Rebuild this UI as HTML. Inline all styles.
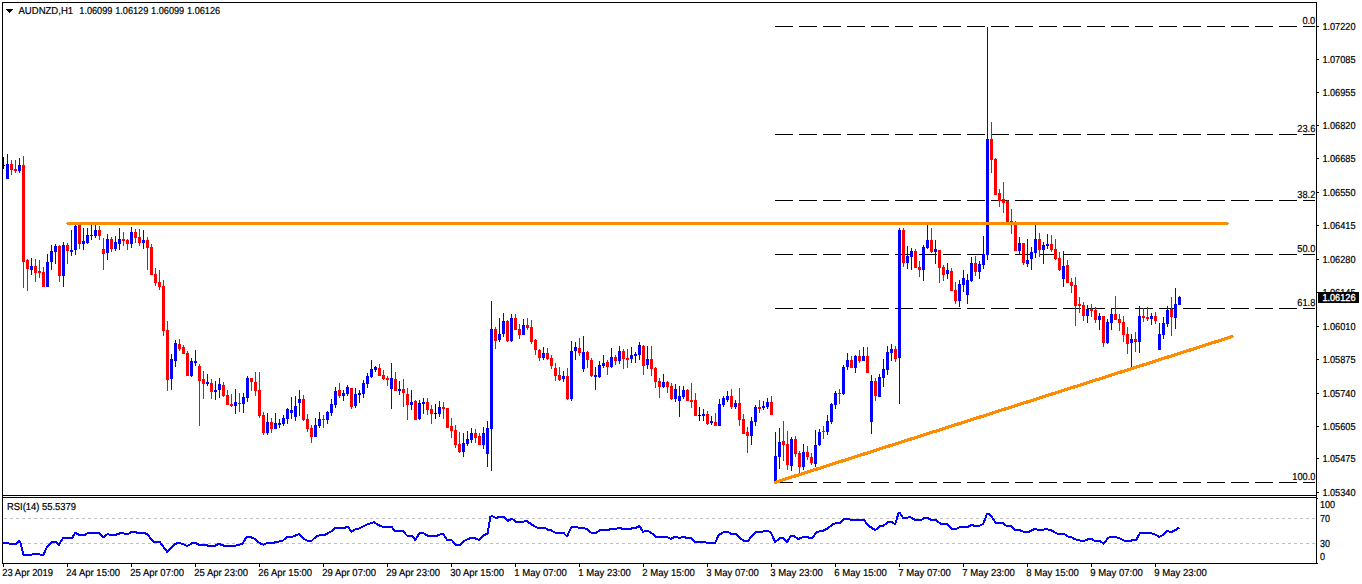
<!DOCTYPE html>
<html><head><meta charset="utf-8"><title>AUDNZD H1</title>
<style>html,body{margin:0;padding:0;background:#fff;overflow:hidden}svg{display:block}text{font-family:"Liberation Sans",sans-serif;font-size:10.1px;text-rendering:geometricPrecision;fill:#000;stroke:#000;stroke-width:0.2px}</style>
</head><body>
<svg width="1362" height="584" viewBox="0 0 1362 584">
<rect x="0" y="0" width="1362" height="584" fill="#fff"/>
<g shape-rendering="crispEdges">
<rect x="775" y="26" width="18" height="1" fill="#000"/>
<rect x="799" y="26" width="18" height="1" fill="#000"/>
<rect x="823" y="26" width="18" height="1" fill="#000"/>
<rect x="847" y="26" width="18" height="1" fill="#000"/>
<rect x="871" y="26" width="18" height="1" fill="#000"/>
<rect x="895" y="26" width="18" height="1" fill="#000"/>
<rect x="919" y="26" width="18" height="1" fill="#000"/>
<rect x="943" y="26" width="18" height="1" fill="#000"/>
<rect x="967" y="26" width="18" height="1" fill="#000"/>
<rect x="991" y="26" width="18" height="1" fill="#000"/>
<rect x="1015" y="26" width="18" height="1" fill="#000"/>
<rect x="1039" y="26" width="18" height="1" fill="#000"/>
<rect x="1063" y="26" width="18" height="1" fill="#000"/>
<rect x="1087" y="26" width="18" height="1" fill="#000"/>
<rect x="1111" y="26" width="18" height="1" fill="#000"/>
<rect x="1135" y="26" width="18" height="1" fill="#000"/>
<rect x="1159" y="26" width="18" height="1" fill="#000"/>
<rect x="1183" y="26" width="18" height="1" fill="#000"/>
<rect x="1207" y="26" width="18" height="1" fill="#000"/>
<rect x="1231" y="26" width="18" height="1" fill="#000"/>
<rect x="1255" y="26" width="18" height="1" fill="#000"/>
<rect x="1279" y="26" width="18" height="1" fill="#000"/>
<rect x="1303" y="26" width="12" height="1" fill="#000"/>
<rect x="775" y="134" width="18" height="1" fill="#000"/>
<rect x="799" y="134" width="18" height="1" fill="#000"/>
<rect x="823" y="134" width="18" height="1" fill="#000"/>
<rect x="847" y="134" width="18" height="1" fill="#000"/>
<rect x="871" y="134" width="18" height="1" fill="#000"/>
<rect x="895" y="134" width="18" height="1" fill="#000"/>
<rect x="919" y="134" width="18" height="1" fill="#000"/>
<rect x="943" y="134" width="18" height="1" fill="#000"/>
<rect x="967" y="134" width="18" height="1" fill="#000"/>
<rect x="991" y="134" width="18" height="1" fill="#000"/>
<rect x="1015" y="134" width="18" height="1" fill="#000"/>
<rect x="1039" y="134" width="18" height="1" fill="#000"/>
<rect x="1063" y="134" width="18" height="1" fill="#000"/>
<rect x="1087" y="134" width="18" height="1" fill="#000"/>
<rect x="1111" y="134" width="18" height="1" fill="#000"/>
<rect x="1135" y="134" width="18" height="1" fill="#000"/>
<rect x="1159" y="134" width="18" height="1" fill="#000"/>
<rect x="1183" y="134" width="18" height="1" fill="#000"/>
<rect x="1207" y="134" width="18" height="1" fill="#000"/>
<rect x="1231" y="134" width="18" height="1" fill="#000"/>
<rect x="1255" y="134" width="18" height="1" fill="#000"/>
<rect x="1279" y="134" width="18" height="1" fill="#000"/>
<rect x="1303" y="134" width="12" height="1" fill="#000"/>
<rect x="775" y="200" width="18" height="1" fill="#000"/>
<rect x="799" y="200" width="18" height="1" fill="#000"/>
<rect x="823" y="200" width="18" height="1" fill="#000"/>
<rect x="847" y="200" width="18" height="1" fill="#000"/>
<rect x="871" y="200" width="18" height="1" fill="#000"/>
<rect x="895" y="200" width="18" height="1" fill="#000"/>
<rect x="919" y="200" width="18" height="1" fill="#000"/>
<rect x="943" y="200" width="18" height="1" fill="#000"/>
<rect x="967" y="200" width="18" height="1" fill="#000"/>
<rect x="991" y="200" width="18" height="1" fill="#000"/>
<rect x="1015" y="200" width="18" height="1" fill="#000"/>
<rect x="1039" y="200" width="18" height="1" fill="#000"/>
<rect x="1063" y="200" width="18" height="1" fill="#000"/>
<rect x="1087" y="200" width="18" height="1" fill="#000"/>
<rect x="1111" y="200" width="18" height="1" fill="#000"/>
<rect x="1135" y="200" width="18" height="1" fill="#000"/>
<rect x="1159" y="200" width="18" height="1" fill="#000"/>
<rect x="1183" y="200" width="18" height="1" fill="#000"/>
<rect x="1207" y="200" width="18" height="1" fill="#000"/>
<rect x="1231" y="200" width="18" height="1" fill="#000"/>
<rect x="1255" y="200" width="18" height="1" fill="#000"/>
<rect x="1279" y="200" width="18" height="1" fill="#000"/>
<rect x="1303" y="200" width="12" height="1" fill="#000"/>
<rect x="775" y="254" width="18" height="1" fill="#000"/>
<rect x="799" y="254" width="18" height="1" fill="#000"/>
<rect x="823" y="254" width="18" height="1" fill="#000"/>
<rect x="847" y="254" width="18" height="1" fill="#000"/>
<rect x="871" y="254" width="18" height="1" fill="#000"/>
<rect x="895" y="254" width="18" height="1" fill="#000"/>
<rect x="919" y="254" width="18" height="1" fill="#000"/>
<rect x="943" y="254" width="18" height="1" fill="#000"/>
<rect x="967" y="254" width="18" height="1" fill="#000"/>
<rect x="991" y="254" width="18" height="1" fill="#000"/>
<rect x="1015" y="254" width="18" height="1" fill="#000"/>
<rect x="1039" y="254" width="18" height="1" fill="#000"/>
<rect x="1063" y="254" width="18" height="1" fill="#000"/>
<rect x="1087" y="254" width="18" height="1" fill="#000"/>
<rect x="1111" y="254" width="18" height="1" fill="#000"/>
<rect x="1135" y="254" width="18" height="1" fill="#000"/>
<rect x="1159" y="254" width="18" height="1" fill="#000"/>
<rect x="1183" y="254" width="18" height="1" fill="#000"/>
<rect x="1207" y="254" width="18" height="1" fill="#000"/>
<rect x="1231" y="254" width="18" height="1" fill="#000"/>
<rect x="1255" y="254" width="18" height="1" fill="#000"/>
<rect x="1279" y="254" width="18" height="1" fill="#000"/>
<rect x="1303" y="254" width="12" height="1" fill="#000"/>
<rect x="775" y="308" width="18" height="1" fill="#000"/>
<rect x="799" y="308" width="18" height="1" fill="#000"/>
<rect x="823" y="308" width="18" height="1" fill="#000"/>
<rect x="847" y="308" width="18" height="1" fill="#000"/>
<rect x="871" y="308" width="18" height="1" fill="#000"/>
<rect x="895" y="308" width="18" height="1" fill="#000"/>
<rect x="919" y="308" width="18" height="1" fill="#000"/>
<rect x="943" y="308" width="18" height="1" fill="#000"/>
<rect x="967" y="308" width="18" height="1" fill="#000"/>
<rect x="991" y="308" width="18" height="1" fill="#000"/>
<rect x="1015" y="308" width="18" height="1" fill="#000"/>
<rect x="1039" y="308" width="18" height="1" fill="#000"/>
<rect x="1063" y="308" width="18" height="1" fill="#000"/>
<rect x="1087" y="308" width="18" height="1" fill="#000"/>
<rect x="1111" y="308" width="18" height="1" fill="#000"/>
<rect x="1135" y="308" width="18" height="1" fill="#000"/>
<rect x="1159" y="308" width="18" height="1" fill="#000"/>
<rect x="1183" y="308" width="18" height="1" fill="#000"/>
<rect x="1207" y="308" width="18" height="1" fill="#000"/>
<rect x="1231" y="308" width="18" height="1" fill="#000"/>
<rect x="1255" y="308" width="18" height="1" fill="#000"/>
<rect x="1279" y="308" width="18" height="1" fill="#000"/>
<rect x="1303" y="308" width="12" height="1" fill="#000"/>
<rect x="775" y="482" width="18" height="1" fill="#000"/>
<rect x="799" y="482" width="18" height="1" fill="#000"/>
<rect x="823" y="482" width="18" height="1" fill="#000"/>
<rect x="847" y="482" width="18" height="1" fill="#000"/>
<rect x="871" y="482" width="18" height="1" fill="#000"/>
<rect x="895" y="482" width="18" height="1" fill="#000"/>
<rect x="919" y="482" width="18" height="1" fill="#000"/>
<rect x="943" y="482" width="18" height="1" fill="#000"/>
<rect x="967" y="482" width="18" height="1" fill="#000"/>
<rect x="991" y="482" width="18" height="1" fill="#000"/>
<rect x="1015" y="482" width="18" height="1" fill="#000"/>
<rect x="1039" y="482" width="18" height="1" fill="#000"/>
<rect x="1063" y="482" width="18" height="1" fill="#000"/>
<rect x="1087" y="482" width="18" height="1" fill="#000"/>
<rect x="1111" y="482" width="18" height="1" fill="#000"/>
<rect x="1135" y="482" width="18" height="1" fill="#000"/>
<rect x="1159" y="482" width="18" height="1" fill="#000"/>
<rect x="1183" y="482" width="18" height="1" fill="#000"/>
<rect x="1207" y="482" width="18" height="1" fill="#000"/>
<rect x="1231" y="482" width="18" height="1" fill="#000"/>
<rect x="1255" y="482" width="18" height="1" fill="#000"/>
<rect x="1279" y="482" width="18" height="1" fill="#000"/>
<rect x="1303" y="482" width="12" height="1" fill="#000"/>
<rect x="3" y="157" width="1" height="12" fill="#000"/>
<rect x="4" y="165" width="1" height="1" fill="#000"/>
<rect x="7" y="154" width="1" height="25" fill="#0000ff"/>
<rect x="6" y="164" width="3" height="15" fill="#0000ff"/>
<rect x="11" y="160" width="1" height="15" fill="#ff0000"/>
<rect x="10" y="164" width="3" height="6" fill="#ff0000"/>
<rect x="15" y="160" width="1" height="13" fill="#ff0000"/>
<rect x="14" y="169" width="3" height="2" fill="#ff0000"/>
<rect x="19" y="158" width="1" height="15" fill="#0000ff"/>
<rect x="18" y="165" width="3" height="6" fill="#0000ff"/>
<rect x="23" y="156" width="1" height="132" fill="#ff0000"/>
<rect x="22" y="165" width="3" height="97" fill="#ff0000"/>
<rect x="27" y="259" width="1" height="32" fill="#ff0000"/>
<rect x="26" y="260" width="3" height="9" fill="#ff0000"/>
<rect x="31" y="258" width="1" height="17" fill="#0000ff"/>
<rect x="30" y="266" width="3" height="4" fill="#0000ff"/>
<rect x="35" y="259" width="1" height="23" fill="#ff0000"/>
<rect x="34" y="266" width="3" height="7" fill="#ff0000"/>
<rect x="39" y="260" width="1" height="18" fill="#ff0000"/>
<rect x="38" y="271" width="3" height="2" fill="#ff0000"/>
<rect x="43" y="267" width="1" height="20" fill="#ff0000"/>
<rect x="42" y="272" width="3" height="15" fill="#ff0000"/>
<rect x="47" y="254" width="1" height="33" fill="#0000ff"/>
<rect x="46" y="262" width="3" height="25" fill="#0000ff"/>
<rect x="51" y="245" width="1" height="25" fill="#0000ff"/>
<rect x="50" y="251" width="3" height="11" fill="#0000ff"/>
<rect x="55" y="244" width="1" height="20" fill="#0000ff"/>
<rect x="54" y="246" width="3" height="6" fill="#0000ff"/>
<rect x="59" y="245" width="1" height="37" fill="#ff0000"/>
<rect x="58" y="246" width="3" height="30" fill="#ff0000"/>
<rect x="63" y="242" width="1" height="45" fill="#0000ff"/>
<rect x="62" y="245" width="3" height="31" fill="#0000ff"/>
<rect x="67" y="243" width="1" height="21" fill="#ff0000"/>
<rect x="66" y="245" width="3" height="6" fill="#ff0000"/>
<rect x="71" y="230" width="1" height="26" fill="#0000ff"/>
<rect x="70" y="250" width="3" height="2" fill="#0000ff"/>
<rect x="75" y="225" width="1" height="30" fill="#0000ff"/>
<rect x="74" y="226" width="3" height="24" fill="#0000ff"/>
<rect x="79" y="225" width="1" height="24" fill="#ff0000"/>
<rect x="78" y="225" width="3" height="19" fill="#ff0000"/>
<rect x="83" y="228" width="1" height="22" fill="#0000ff"/>
<rect x="82" y="241" width="3" height="3" fill="#0000ff"/>
<rect x="87" y="228" width="1" height="16" fill="#0000ff"/>
<rect x="86" y="235" width="3" height="8" fill="#0000ff"/>
<rect x="91" y="225" width="1" height="15" fill="#0000ff"/>
<rect x="90" y="235" width="3" height="1" fill="#0000ff"/>
<rect x="95" y="225" width="1" height="13" fill="#0000ff"/>
<rect x="94" y="230" width="3" height="6" fill="#0000ff"/>
<rect x="99" y="226" width="1" height="14" fill="#ff0000"/>
<rect x="98" y="230" width="3" height="6" fill="#ff0000"/>
<rect x="103" y="238" width="1" height="32" fill="#ff0000"/>
<rect x="102" y="249" width="3" height="5" fill="#ff0000"/>
<rect x="107" y="234" width="1" height="26" fill="#0000ff"/>
<rect x="106" y="239" width="3" height="14" fill="#0000ff"/>
<rect x="111" y="237" width="1" height="15" fill="#ff0000"/>
<rect x="110" y="239" width="3" height="10" fill="#ff0000"/>
<rect x="115" y="236" width="1" height="15" fill="#0000ff"/>
<rect x="114" y="242" width="3" height="7" fill="#0000ff"/>
<rect x="119" y="228" width="1" height="22" fill="#0000ff"/>
<rect x="118" y="239" width="3" height="5" fill="#0000ff"/>
<rect x="123" y="232" width="1" height="14" fill="#ff0000"/>
<rect x="122" y="239" width="3" height="2" fill="#ff0000"/>
<rect x="127" y="239" width="1" height="11" fill="#ff0000"/>
<rect x="126" y="240" width="3" height="4" fill="#ff0000"/>
<rect x="131" y="227" width="1" height="21" fill="#0000ff"/>
<rect x="130" y="232" width="3" height="12" fill="#0000ff"/>
<rect x="135" y="229" width="1" height="14" fill="#ff0000"/>
<rect x="134" y="232" width="3" height="6" fill="#ff0000"/>
<rect x="139" y="229" width="1" height="17" fill="#ff0000"/>
<rect x="138" y="237" width="3" height="6" fill="#ff0000"/>
<rect x="143" y="230" width="1" height="19" fill="#0000ff"/>
<rect x="142" y="240" width="3" height="3" fill="#0000ff"/>
<rect x="147" y="237" width="1" height="33" fill="#ff0000"/>
<rect x="146" y="240" width="3" height="8" fill="#ff0000"/>
<rect x="151" y="244" width="1" height="31" fill="#ff0000"/>
<rect x="150" y="247" width="3" height="28" fill="#ff0000"/>
<rect x="155" y="268" width="1" height="18" fill="#ff0000"/>
<rect x="154" y="274" width="3" height="9" fill="#ff0000"/>
<rect x="159" y="270" width="1" height="20" fill="#ff0000"/>
<rect x="158" y="282" width="3" height="5" fill="#ff0000"/>
<rect x="163" y="280" width="1" height="56" fill="#ff0000"/>
<rect x="162" y="286" width="3" height="45" fill="#ff0000"/>
<rect x="167" y="321" width="1" height="70" fill="#ff0000"/>
<rect x="166" y="330" width="3" height="50" fill="#ff0000"/>
<rect x="171" y="354" width="1" height="36" fill="#0000ff"/>
<rect x="170" y="359" width="3" height="20" fill="#0000ff"/>
<rect x="175" y="340" width="1" height="27" fill="#0000ff"/>
<rect x="174" y="343" width="3" height="18" fill="#0000ff"/>
<rect x="179" y="339" width="1" height="12" fill="#ff0000"/>
<rect x="178" y="344" width="3" height="5" fill="#ff0000"/>
<rect x="183" y="345" width="1" height="9" fill="#ff0000"/>
<rect x="182" y="347" width="3" height="7" fill="#ff0000"/>
<rect x="187" y="351" width="1" height="25" fill="#ff0000"/>
<rect x="186" y="353" width="3" height="23" fill="#ff0000"/>
<rect x="191" y="358" width="1" height="19" fill="#0000ff"/>
<rect x="190" y="361" width="3" height="15" fill="#0000ff"/>
<rect x="195" y="350" width="1" height="16" fill="#0000ff"/>
<rect x="194" y="361" width="3" height="2" fill="#0000ff"/>
<rect x="199" y="364" width="1" height="62" fill="#ff0000"/>
<rect x="198" y="366" width="3" height="15" fill="#ff0000"/>
<rect x="203" y="371" width="1" height="28" fill="#ff0000"/>
<rect x="202" y="379" width="3" height="5" fill="#ff0000"/>
<rect x="207" y="374" width="1" height="12" fill="#0000ff"/>
<rect x="206" y="382" width="3" height="2" fill="#0000ff"/>
<rect x="211" y="379" width="1" height="20" fill="#ff0000"/>
<rect x="210" y="383" width="3" height="9" fill="#ff0000"/>
<rect x="215" y="381" width="1" height="19" fill="#0000ff"/>
<rect x="214" y="390" width="3" height="2" fill="#0000ff"/>
<rect x="219" y="378" width="1" height="20" fill="#0000ff"/>
<rect x="218" y="384" width="3" height="6" fill="#0000ff"/>
<rect x="223" y="382" width="1" height="15" fill="#ff0000"/>
<rect x="222" y="385" width="3" height="11" fill="#ff0000"/>
<rect x="227" y="390" width="1" height="15" fill="#ff0000"/>
<rect x="226" y="395" width="3" height="10" fill="#ff0000"/>
<rect x="231" y="394" width="1" height="13" fill="#ff0000"/>
<rect x="230" y="404" width="3" height="2" fill="#ff0000"/>
<rect x="235" y="389" width="1" height="25" fill="#0000ff"/>
<rect x="234" y="402" width="3" height="4" fill="#0000ff"/>
<rect x="239" y="393" width="1" height="19" fill="#ff0000"/>
<rect x="238" y="403" width="3" height="1" fill="#ff0000"/>
<rect x="243" y="393" width="1" height="20" fill="#0000ff"/>
<rect x="242" y="397" width="3" height="7" fill="#0000ff"/>
<rect x="247" y="376" width="1" height="26" fill="#0000ff"/>
<rect x="246" y="378" width="3" height="20" fill="#0000ff"/>
<rect x="251" y="378" width="1" height="13" fill="#ff0000"/>
<rect x="250" y="378" width="3" height="4" fill="#ff0000"/>
<rect x="255" y="372" width="1" height="24" fill="#ff0000"/>
<rect x="254" y="382" width="3" height="9" fill="#ff0000"/>
<rect x="259" y="372" width="1" height="46" fill="#ff0000"/>
<rect x="258" y="390" width="3" height="26" fill="#ff0000"/>
<rect x="263" y="412" width="1" height="23" fill="#ff0000"/>
<rect x="262" y="415" width="3" height="18" fill="#ff0000"/>
<rect x="267" y="413" width="1" height="22" fill="#0000ff"/>
<rect x="266" y="422" width="3" height="11" fill="#0000ff"/>
<rect x="271" y="418" width="1" height="15" fill="#ff0000"/>
<rect x="270" y="422" width="3" height="7" fill="#ff0000"/>
<rect x="275" y="413" width="1" height="16" fill="#0000ff"/>
<rect x="274" y="423" width="3" height="6" fill="#0000ff"/>
<rect x="279" y="419" width="1" height="9" fill="#0000ff"/>
<rect x="278" y="423" width="3" height="2" fill="#0000ff"/>
<rect x="283" y="415" width="1" height="11" fill="#0000ff"/>
<rect x="282" y="418" width="3" height="6" fill="#0000ff"/>
<rect x="287" y="408" width="1" height="16" fill="#0000ff"/>
<rect x="286" y="409" width="3" height="10" fill="#0000ff"/>
<rect x="291" y="397" width="1" height="22" fill="#0000ff"/>
<rect x="290" y="410" width="3" height="3" fill="#0000ff"/>
<rect x="295" y="396" width="1" height="25" fill="#0000ff"/>
<rect x="294" y="406" width="3" height="11" fill="#0000ff"/>
<rect x="299" y="390" width="1" height="26" fill="#0000ff"/>
<rect x="298" y="399" width="3" height="4" fill="#0000ff"/>
<rect x="303" y="395" width="1" height="26" fill="#ff0000"/>
<rect x="302" y="399" width="3" height="21" fill="#ff0000"/>
<rect x="307" y="414" width="1" height="18" fill="#ff0000"/>
<rect x="306" y="419" width="3" height="10" fill="#ff0000"/>
<rect x="311" y="425" width="1" height="18" fill="#ff0000"/>
<rect x="310" y="428" width="3" height="9" fill="#ff0000"/>
<rect x="315" y="418" width="1" height="19" fill="#0000ff"/>
<rect x="314" y="425" width="3" height="12" fill="#0000ff"/>
<rect x="319" y="412" width="1" height="16" fill="#0000ff"/>
<rect x="318" y="419" width="3" height="7" fill="#0000ff"/>
<rect x="323" y="415" width="1" height="13" fill="#ff0000"/>
<rect x="322" y="419" width="3" height="1" fill="#ff0000"/>
<rect x="327" y="411" width="1" height="13" fill="#0000ff"/>
<rect x="326" y="412" width="3" height="8" fill="#0000ff"/>
<rect x="331" y="399" width="1" height="17" fill="#0000ff"/>
<rect x="330" y="404" width="3" height="9" fill="#0000ff"/>
<rect x="335" y="387" width="1" height="21" fill="#0000ff"/>
<rect x="334" y="391" width="3" height="14" fill="#0000ff"/>
<rect x="339" y="383" width="1" height="15" fill="#ff0000"/>
<rect x="338" y="390" width="3" height="6" fill="#ff0000"/>
<rect x="343" y="390" width="1" height="11" fill="#0000ff"/>
<rect x="342" y="393" width="3" height="3" fill="#0000ff"/>
<rect x="347" y="385" width="1" height="11" fill="#0000ff"/>
<rect x="346" y="387" width="3" height="7" fill="#0000ff"/>
<rect x="351" y="388" width="1" height="21" fill="#ff0000"/>
<rect x="350" y="388" width="3" height="19" fill="#ff0000"/>
<rect x="355" y="388" width="1" height="20" fill="#0000ff"/>
<rect x="354" y="394" width="3" height="12" fill="#0000ff"/>
<rect x="359" y="390" width="1" height="13" fill="#0000ff"/>
<rect x="358" y="393" width="3" height="2" fill="#0000ff"/>
<rect x="363" y="380" width="1" height="18" fill="#0000ff"/>
<rect x="362" y="383" width="3" height="11" fill="#0000ff"/>
<rect x="367" y="373" width="1" height="15" fill="#0000ff"/>
<rect x="366" y="376" width="3" height="8" fill="#0000ff"/>
<rect x="371" y="360" width="1" height="18" fill="#0000ff"/>
<rect x="370" y="369" width="3" height="8" fill="#0000ff"/>
<rect x="375" y="366" width="1" height="6" fill="#0000ff"/>
<rect x="374" y="367" width="3" height="3" fill="#0000ff"/>
<rect x="379" y="364" width="1" height="12" fill="#ff0000"/>
<rect x="378" y="368" width="3" height="8" fill="#ff0000"/>
<rect x="383" y="370" width="1" height="10" fill="#ff0000"/>
<rect x="382" y="375" width="3" height="4" fill="#ff0000"/>
<rect x="387" y="376" width="1" height="10" fill="#ff0000"/>
<rect x="386" y="378" width="3" height="2" fill="#ff0000"/>
<rect x="391" y="363" width="1" height="46" fill="#0000ff"/>
<rect x="390" y="378" width="3" height="11" fill="#0000ff"/>
<rect x="395" y="372" width="1" height="19" fill="#ff0000"/>
<rect x="394" y="379" width="3" height="12" fill="#ff0000"/>
<rect x="399" y="381" width="1" height="14" fill="#0000ff"/>
<rect x="398" y="389" width="3" height="2" fill="#0000ff"/>
<rect x="403" y="379" width="1" height="28" fill="#ff0000"/>
<rect x="402" y="389" width="3" height="4" fill="#ff0000"/>
<rect x="407" y="388" width="1" height="32" fill="#ff0000"/>
<rect x="406" y="394" width="3" height="11" fill="#ff0000"/>
<rect x="411" y="390" width="1" height="20" fill="#0000ff"/>
<rect x="410" y="402" width="3" height="3" fill="#0000ff"/>
<rect x="415" y="400" width="1" height="20" fill="#ff0000"/>
<rect x="414" y="401" width="3" height="19" fill="#ff0000"/>
<rect x="419" y="400" width="1" height="20" fill="#0000ff"/>
<rect x="418" y="403" width="3" height="16" fill="#0000ff"/>
<rect x="423" y="398" width="1" height="16" fill="#0000ff"/>
<rect x="422" y="402" width="3" height="2" fill="#0000ff"/>
<rect x="427" y="398" width="1" height="17" fill="#ff0000"/>
<rect x="426" y="402" width="3" height="8" fill="#ff0000"/>
<rect x="431" y="405" width="1" height="19" fill="#ff0000"/>
<rect x="430" y="409" width="3" height="5" fill="#ff0000"/>
<rect x="435" y="404" width="1" height="15" fill="#000"/>
<rect x="434" y="413" width="3" height="1" fill="#000"/>
<rect x="439" y="401" width="1" height="16" fill="#0000ff"/>
<rect x="438" y="407" width="3" height="7" fill="#0000ff"/>
<rect x="443" y="402" width="1" height="17" fill="#ff0000"/>
<rect x="442" y="407" width="3" height="2" fill="#ff0000"/>
<rect x="447" y="408" width="1" height="20" fill="#ff0000"/>
<rect x="446" y="408" width="3" height="20" fill="#ff0000"/>
<rect x="451" y="418" width="1" height="20" fill="#ff0000"/>
<rect x="450" y="426" width="3" height="5" fill="#ff0000"/>
<rect x="455" y="425" width="1" height="23" fill="#ff0000"/>
<rect x="454" y="430" width="3" height="15" fill="#ff0000"/>
<rect x="459" y="432" width="1" height="21" fill="#ff0000"/>
<rect x="458" y="444" width="3" height="8" fill="#ff0000"/>
<rect x="463" y="433" width="1" height="24" fill="#0000ff"/>
<rect x="462" y="443" width="3" height="9" fill="#0000ff"/>
<rect x="467" y="431" width="1" height="15" fill="#0000ff"/>
<rect x="466" y="439" width="3" height="5" fill="#0000ff"/>
<rect x="471" y="428" width="1" height="15" fill="#0000ff"/>
<rect x="470" y="433" width="3" height="7" fill="#0000ff"/>
<rect x="475" y="429" width="1" height="14" fill="#ff0000"/>
<rect x="474" y="433" width="3" height="5" fill="#ff0000"/>
<rect x="479" y="433" width="1" height="12" fill="#ff0000"/>
<rect x="478" y="436" width="3" height="9" fill="#ff0000"/>
<rect x="483" y="427" width="1" height="22" fill="#0000ff"/>
<rect x="482" y="433" width="3" height="12" fill="#0000ff"/>
<rect x="487" y="421" width="1" height="46" fill="#0000ff"/>
<rect x="486" y="428" width="3" height="26" fill="#0000ff"/>
<rect x="491" y="301" width="1" height="170" fill="#0000ff"/>
<rect x="490" y="329" width="3" height="100" fill="#0000ff"/>
<rect x="495" y="327" width="1" height="22" fill="#ff0000"/>
<rect x="494" y="329" width="3" height="12" fill="#ff0000"/>
<rect x="499" y="318" width="1" height="24" fill="#0000ff"/>
<rect x="498" y="334" width="3" height="6" fill="#0000ff"/>
<rect x="503" y="313" width="1" height="24" fill="#0000ff"/>
<rect x="502" y="321" width="3" height="13" fill="#0000ff"/>
<rect x="507" y="320" width="1" height="22" fill="#ff0000"/>
<rect x="506" y="321" width="3" height="20" fill="#ff0000"/>
<rect x="511" y="314" width="1" height="28" fill="#0000ff"/>
<rect x="510" y="318" width="3" height="23" fill="#0000ff"/>
<rect x="515" y="314" width="1" height="16" fill="#ff0000"/>
<rect x="514" y="318" width="3" height="12" fill="#ff0000"/>
<rect x="519" y="324" width="1" height="15" fill="#ff0000"/>
<rect x="518" y="329" width="3" height="6" fill="#ff0000"/>
<rect x="523" y="319" width="1" height="16" fill="#0000ff"/>
<rect x="522" y="325" width="3" height="10" fill="#0000ff"/>
<rect x="527" y="318" width="1" height="12" fill="#ff0000"/>
<rect x="526" y="325" width="3" height="3" fill="#ff0000"/>
<rect x="531" y="320" width="1" height="24" fill="#ff0000"/>
<rect x="530" y="327" width="3" height="15" fill="#ff0000"/>
<rect x="535" y="339" width="1" height="16" fill="#ff0000"/>
<rect x="534" y="340" width="3" height="10" fill="#ff0000"/>
<rect x="539" y="349" width="1" height="12" fill="#ff0000"/>
<rect x="538" y="350" width="3" height="8" fill="#ff0000"/>
<rect x="543" y="347" width="1" height="13" fill="#0000ff"/>
<rect x="542" y="353" width="3" height="5" fill="#0000ff"/>
<rect x="547" y="348" width="1" height="12" fill="#ff0000"/>
<rect x="546" y="353" width="3" height="6" fill="#ff0000"/>
<rect x="551" y="355" width="1" height="14" fill="#ff0000"/>
<rect x="550" y="358" width="3" height="8" fill="#ff0000"/>
<rect x="555" y="363" width="1" height="18" fill="#ff0000"/>
<rect x="554" y="368" width="3" height="8" fill="#ff0000"/>
<rect x="559" y="367" width="1" height="14" fill="#ff0000"/>
<rect x="558" y="375" width="3" height="5" fill="#ff0000"/>
<rect x="563" y="371" width="1" height="11" fill="#0000ff"/>
<rect x="562" y="376" width="3" height="3" fill="#0000ff"/>
<rect x="567" y="368" width="1" height="32" fill="#ff0000"/>
<rect x="566" y="376" width="3" height="23" fill="#ff0000"/>
<rect x="571" y="341" width="1" height="60" fill="#0000ff"/>
<rect x="570" y="351" width="3" height="48" fill="#0000ff"/>
<rect x="575" y="342" width="1" height="18" fill="#0000ff"/>
<rect x="574" y="347" width="3" height="4" fill="#0000ff"/>
<rect x="579" y="338" width="1" height="18" fill="#ff0000"/>
<rect x="578" y="348" width="3" height="5" fill="#ff0000"/>
<rect x="583" y="336" width="1" height="36" fill="#0000ff"/>
<rect x="582" y="352" width="3" height="17" fill="#0000ff"/>
<rect x="587" y="351" width="1" height="17" fill="#ff0000"/>
<rect x="586" y="352" width="3" height="8" fill="#ff0000"/>
<rect x="591" y="358" width="1" height="19" fill="#ff0000"/>
<rect x="590" y="360" width="3" height="16" fill="#ff0000"/>
<rect x="595" y="367" width="1" height="23" fill="#0000ff"/>
<rect x="594" y="375" width="3" height="2" fill="#0000ff"/>
<rect x="599" y="361" width="1" height="17" fill="#0000ff"/>
<rect x="598" y="365" width="3" height="12" fill="#0000ff"/>
<rect x="603" y="355" width="1" height="13" fill="#0000ff"/>
<rect x="602" y="363" width="3" height="3" fill="#0000ff"/>
<rect x="607" y="360" width="1" height="15" fill="#ff0000"/>
<rect x="606" y="362" width="3" height="5" fill="#ff0000"/>
<rect x="611" y="348" width="1" height="20" fill="#0000ff"/>
<rect x="610" y="357" width="3" height="10" fill="#0000ff"/>
<rect x="615" y="355" width="1" height="10" fill="#ff0000"/>
<rect x="614" y="357" width="3" height="4" fill="#ff0000"/>
<rect x="619" y="346" width="1" height="18" fill="#0000ff"/>
<rect x="618" y="351" width="3" height="10" fill="#0000ff"/>
<rect x="623" y="349" width="1" height="20" fill="#ff0000"/>
<rect x="622" y="351" width="3" height="8" fill="#ff0000"/>
<rect x="627" y="349" width="1" height="19" fill="#ff0000"/>
<rect x="626" y="358" width="3" height="2" fill="#ff0000"/>
<rect x="631" y="347" width="1" height="16" fill="#0000ff"/>
<rect x="630" y="355" width="3" height="4" fill="#0000ff"/>
<rect x="635" y="352" width="1" height="11" fill="#0000ff"/>
<rect x="634" y="354" width="3" height="2" fill="#0000ff"/>
<rect x="639" y="342" width="1" height="18" fill="#0000ff"/>
<rect x="638" y="345" width="3" height="10" fill="#0000ff"/>
<rect x="643" y="345" width="1" height="30" fill="#ff0000"/>
<rect x="642" y="346" width="3" height="20" fill="#ff0000"/>
<rect x="647" y="346" width="1" height="23" fill="#0000ff"/>
<rect x="646" y="359" width="3" height="6" fill="#0000ff"/>
<rect x="651" y="346" width="1" height="30" fill="#ff0000"/>
<rect x="650" y="359" width="3" height="10" fill="#ff0000"/>
<rect x="655" y="367" width="1" height="21" fill="#ff0000"/>
<rect x="654" y="368" width="3" height="14" fill="#ff0000"/>
<rect x="659" y="378" width="1" height="20" fill="#ff0000"/>
<rect x="658" y="381" width="3" height="6" fill="#ff0000"/>
<rect x="663" y="374" width="1" height="14" fill="#0000ff"/>
<rect x="662" y="382" width="3" height="5" fill="#0000ff"/>
<rect x="667" y="381" width="1" height="12" fill="#ff0000"/>
<rect x="666" y="382" width="3" height="5" fill="#ff0000"/>
<rect x="671" y="383" width="1" height="17" fill="#ff0000"/>
<rect x="670" y="386" width="3" height="13" fill="#ff0000"/>
<rect x="675" y="384" width="1" height="18" fill="#0000ff"/>
<rect x="674" y="389" width="3" height="10" fill="#0000ff"/>
<rect x="679" y="386" width="1" height="31" fill="#0000ff"/>
<rect x="678" y="396" width="3" height="5" fill="#0000ff"/>
<rect x="683" y="386" width="1" height="13" fill="#0000ff"/>
<rect x="682" y="390" width="3" height="7" fill="#0000ff"/>
<rect x="687" y="389" width="1" height="12" fill="#ff0000"/>
<rect x="686" y="390" width="3" height="11" fill="#ff0000"/>
<rect x="691" y="383" width="1" height="25" fill="#ff0000"/>
<rect x="690" y="400" width="3" height="2" fill="#ff0000"/>
<rect x="695" y="393" width="1" height="23" fill="#ff0000"/>
<rect x="694" y="400" width="3" height="16" fill="#ff0000"/>
<rect x="699" y="407" width="1" height="14" fill="#000"/>
<rect x="698" y="415" width="3" height="1" fill="#000"/>
<rect x="703" y="409" width="1" height="12" fill="#0000ff"/>
<rect x="702" y="414" width="3" height="2" fill="#0000ff"/>
<rect x="707" y="411" width="1" height="14" fill="#ff0000"/>
<rect x="706" y="414" width="3" height="10" fill="#ff0000"/>
<rect x="711" y="416" width="1" height="9" fill="#0000ff"/>
<rect x="710" y="421" width="3" height="2" fill="#0000ff"/>
<rect x="715" y="413" width="1" height="13" fill="#ff0000"/>
<rect x="714" y="422" width="3" height="4" fill="#ff0000"/>
<rect x="719" y="399" width="1" height="27" fill="#0000ff"/>
<rect x="718" y="404" width="3" height="22" fill="#0000ff"/>
<rect x="723" y="396" width="1" height="11" fill="#0000ff"/>
<rect x="722" y="398" width="3" height="7" fill="#0000ff"/>
<rect x="727" y="391" width="1" height="11" fill="#0000ff"/>
<rect x="726" y="396" width="3" height="4" fill="#0000ff"/>
<rect x="731" y="389" width="1" height="20" fill="#ff0000"/>
<rect x="730" y="396" width="3" height="11" fill="#ff0000"/>
<rect x="735" y="400" width="1" height="9" fill="#0000ff"/>
<rect x="734" y="403" width="3" height="4" fill="#0000ff"/>
<rect x="739" y="388" width="1" height="38" fill="#ff0000"/>
<rect x="738" y="403" width="3" height="17" fill="#ff0000"/>
<rect x="743" y="414" width="1" height="20" fill="#ff0000"/>
<rect x="742" y="419" width="3" height="15" fill="#ff0000"/>
<rect x="747" y="427" width="1" height="26" fill="#ff0000"/>
<rect x="746" y="432" width="3" height="4" fill="#ff0000"/>
<rect x="751" y="417" width="1" height="28" fill="#0000ff"/>
<rect x="750" y="421" width="3" height="15" fill="#0000ff"/>
<rect x="755" y="405" width="1" height="21" fill="#0000ff"/>
<rect x="754" y="407" width="3" height="15" fill="#0000ff"/>
<rect x="759" y="400" width="1" height="13" fill="#ff0000"/>
<rect x="758" y="407" width="3" height="2" fill="#ff0000"/>
<rect x="763" y="401" width="1" height="9" fill="#0000ff"/>
<rect x="762" y="406" width="3" height="2" fill="#0000ff"/>
<rect x="767" y="398" width="1" height="11" fill="#0000ff"/>
<rect x="766" y="402" width="3" height="5" fill="#0000ff"/>
<rect x="771" y="396" width="1" height="19" fill="#ff0000"/>
<rect x="770" y="402" width="3" height="13" fill="#ff0000"/>
<rect x="775" y="432" width="1" height="51" fill="#0000ff"/>
<rect x="774" y="456" width="3" height="26" fill="#0000ff"/>
<rect x="779" y="428" width="1" height="41" fill="#0000ff"/>
<rect x="778" y="442" width="3" height="15" fill="#0000ff"/>
<rect x="783" y="421" width="1" height="40" fill="#ff0000"/>
<rect x="782" y="441" width="3" height="4" fill="#ff0000"/>
<rect x="787" y="431" width="1" height="39" fill="#ff0000"/>
<rect x="786" y="444" width="3" height="21" fill="#ff0000"/>
<rect x="791" y="437" width="1" height="34" fill="#0000ff"/>
<rect x="790" y="439" width="3" height="27" fill="#0000ff"/>
<rect x="795" y="436" width="1" height="21" fill="#ff0000"/>
<rect x="794" y="439" width="3" height="15" fill="#ff0000"/>
<rect x="799" y="451" width="1" height="22" fill="#ff0000"/>
<rect x="798" y="453" width="3" height="14" fill="#ff0000"/>
<rect x="803" y="444" width="1" height="26" fill="#0000ff"/>
<rect x="802" y="452" width="3" height="15" fill="#0000ff"/>
<rect x="807" y="446" width="1" height="14" fill="#ff0000"/>
<rect x="806" y="452" width="3" height="5" fill="#ff0000"/>
<rect x="811" y="453" width="1" height="12" fill="#ff0000"/>
<rect x="810" y="457" width="3" height="6" fill="#ff0000"/>
<rect x="815" y="430" width="1" height="37" fill="#0000ff"/>
<rect x="814" y="445" width="3" height="19" fill="#0000ff"/>
<rect x="819" y="429" width="1" height="17" fill="#0000ff"/>
<rect x="818" y="432" width="3" height="13" fill="#0000ff"/>
<rect x="823" y="426" width="1" height="13" fill="#ff0000"/>
<rect x="822" y="431" width="3" height="1" fill="#ff0000"/>
<rect x="827" y="415" width="1" height="20" fill="#0000ff"/>
<rect x="826" y="421" width="3" height="11" fill="#0000ff"/>
<rect x="831" y="403" width="1" height="21" fill="#0000ff"/>
<rect x="830" y="404" width="3" height="18" fill="#0000ff"/>
<rect x="835" y="391" width="1" height="18" fill="#0000ff"/>
<rect x="834" y="393" width="3" height="12" fill="#0000ff"/>
<rect x="839" y="389" width="1" height="15" fill="#ff0000"/>
<rect x="838" y="393" width="3" height="1" fill="#ff0000"/>
<rect x="843" y="365" width="1" height="30" fill="#0000ff"/>
<rect x="842" y="367" width="3" height="27" fill="#0000ff"/>
<rect x="847" y="353" width="1" height="17" fill="#0000ff"/>
<rect x="846" y="360" width="3" height="7" fill="#0000ff"/>
<rect x="851" y="356" width="1" height="12" fill="#ff0000"/>
<rect x="850" y="360" width="3" height="8" fill="#ff0000"/>
<rect x="855" y="355" width="1" height="18" fill="#0000ff"/>
<rect x="854" y="356" width="3" height="12" fill="#0000ff"/>
<rect x="859" y="350" width="1" height="13" fill="#ff0000"/>
<rect x="858" y="356" width="3" height="5" fill="#ff0000"/>
<rect x="863" y="347" width="1" height="14" fill="#0000ff"/>
<rect x="862" y="356" width="3" height="5" fill="#0000ff"/>
<rect x="867" y="347" width="1" height="26" fill="#ff0000"/>
<rect x="866" y="356" width="3" height="17" fill="#ff0000"/>
<rect x="871" y="375" width="1" height="59" fill="#0000ff"/>
<rect x="870" y="381" width="3" height="41" fill="#0000ff"/>
<rect x="875" y="378" width="1" height="23" fill="#ff0000"/>
<rect x="874" y="381" width="3" height="15" fill="#ff0000"/>
<rect x="879" y="374" width="1" height="23" fill="#0000ff"/>
<rect x="878" y="377" width="3" height="20" fill="#0000ff"/>
<rect x="883" y="359" width="1" height="28" fill="#0000ff"/>
<rect x="882" y="369" width="3" height="9" fill="#0000ff"/>
<rect x="887" y="346" width="1" height="29" fill="#0000ff"/>
<rect x="886" y="352" width="3" height="18" fill="#0000ff"/>
<rect x="891" y="344" width="1" height="17" fill="#0000ff"/>
<rect x="890" y="349" width="3" height="4" fill="#0000ff"/>
<rect x="895" y="346" width="1" height="16" fill="#ff0000"/>
<rect x="894" y="349" width="3" height="10" fill="#ff0000"/>
<rect x="899" y="228" width="1" height="176" fill="#0000ff"/>
<rect x="898" y="230" width="3" height="128" fill="#0000ff"/>
<rect x="903" y="228" width="1" height="39" fill="#ff0000"/>
<rect x="902" y="230" width="3" height="33" fill="#ff0000"/>
<rect x="907" y="246" width="1" height="23" fill="#0000ff"/>
<rect x="906" y="256" width="3" height="7" fill="#0000ff"/>
<rect x="911" y="248" width="1" height="22" fill="#0000ff"/>
<rect x="910" y="251" width="3" height="6" fill="#0000ff"/>
<rect x="915" y="249" width="1" height="19" fill="#ff0000"/>
<rect x="914" y="251" width="3" height="17" fill="#ff0000"/>
<rect x="919" y="261" width="1" height="16" fill="#ff0000"/>
<rect x="918" y="267" width="3" height="3" fill="#ff0000"/>
<rect x="923" y="245" width="1" height="36" fill="#0000ff"/>
<rect x="922" y="247" width="3" height="23" fill="#0000ff"/>
<rect x="927" y="225" width="1" height="24" fill="#0000ff"/>
<rect x="926" y="240" width="3" height="8" fill="#0000ff"/>
<rect x="931" y="228" width="1" height="25" fill="#ff0000"/>
<rect x="930" y="240" width="3" height="12" fill="#ff0000"/>
<rect x="935" y="240" width="1" height="24" fill="#0000ff"/>
<rect x="934" y="249" width="3" height="3" fill="#0000ff"/>
<rect x="939" y="250" width="1" height="33" fill="#ff0000"/>
<rect x="938" y="250" width="3" height="18" fill="#ff0000"/>
<rect x="943" y="265" width="1" height="16" fill="#ff0000"/>
<rect x="942" y="267" width="3" height="8" fill="#ff0000"/>
<rect x="947" y="263" width="1" height="16" fill="#0000ff"/>
<rect x="946" y="270" width="3" height="4" fill="#0000ff"/>
<rect x="951" y="268" width="1" height="23" fill="#ff0000"/>
<rect x="950" y="271" width="3" height="20" fill="#ff0000"/>
<rect x="955" y="282" width="1" height="22" fill="#ff0000"/>
<rect x="954" y="290" width="3" height="11" fill="#ff0000"/>
<rect x="959" y="280" width="1" height="27" fill="#0000ff"/>
<rect x="958" y="284" width="3" height="17" fill="#0000ff"/>
<rect x="963" y="270" width="1" height="22" fill="#0000ff"/>
<rect x="962" y="278" width="3" height="7" fill="#0000ff"/>
<rect x="967" y="274" width="1" height="30" fill="#0000ff"/>
<rect x="966" y="280" width="3" height="15" fill="#0000ff"/>
<rect x="971" y="257" width="1" height="25" fill="#0000ff"/>
<rect x="970" y="263" width="3" height="18" fill="#0000ff"/>
<rect x="975" y="256" width="1" height="20" fill="#ff0000"/>
<rect x="974" y="263" width="3" height="9" fill="#ff0000"/>
<rect x="979" y="261" width="1" height="18" fill="#0000ff"/>
<rect x="978" y="264" width="3" height="8" fill="#0000ff"/>
<rect x="983" y="236" width="1" height="33" fill="#0000ff"/>
<rect x="982" y="254" width="3" height="11" fill="#0000ff"/>
<rect x="987" y="27" width="1" height="233" fill="#0000ff"/>
<rect x="986" y="139" width="3" height="116" fill="#0000ff"/>
<rect x="991" y="122" width="1" height="51" fill="#ff0000"/>
<rect x="990" y="139" width="3" height="21" fill="#ff0000"/>
<rect x="995" y="158" width="1" height="37" fill="#ff0000"/>
<rect x="994" y="159" width="3" height="36" fill="#ff0000"/>
<rect x="999" y="189" width="1" height="18" fill="#ff0000"/>
<rect x="998" y="193" width="3" height="8" fill="#ff0000"/>
<rect x="1003" y="182" width="1" height="31" fill="#ff0000"/>
<rect x="1002" y="199" width="3" height="4" fill="#ff0000"/>
<rect x="1007" y="200" width="1" height="22" fill="#ff0000"/>
<rect x="1006" y="201" width="3" height="21" fill="#ff0000"/>
<rect x="1011" y="209" width="1" height="25" fill="#ff0000"/>
<rect x="1010" y="221" width="3" height="3" fill="#ff0000"/>
<rect x="1015" y="221" width="1" height="30" fill="#ff0000"/>
<rect x="1014" y="222" width="3" height="29" fill="#ff0000"/>
<rect x="1019" y="237" width="1" height="18" fill="#0000ff"/>
<rect x="1018" y="243" width="3" height="8" fill="#0000ff"/>
<rect x="1023" y="243" width="1" height="22" fill="#ff0000"/>
<rect x="1022" y="243" width="3" height="20" fill="#ff0000"/>
<rect x="1027" y="239" width="1" height="28" fill="#0000ff"/>
<rect x="1026" y="260" width="3" height="4" fill="#0000ff"/>
<rect x="1031" y="247" width="1" height="23" fill="#0000ff"/>
<rect x="1030" y="252" width="3" height="7" fill="#0000ff"/>
<rect x="1035" y="225" width="1" height="33" fill="#0000ff"/>
<rect x="1034" y="239" width="3" height="14" fill="#0000ff"/>
<rect x="1039" y="233" width="1" height="24" fill="#ff0000"/>
<rect x="1038" y="239" width="3" height="11" fill="#ff0000"/>
<rect x="1043" y="242" width="1" height="22" fill="#0000ff"/>
<rect x="1042" y="245" width="3" height="5" fill="#0000ff"/>
<rect x="1047" y="234" width="1" height="15" fill="#0000ff"/>
<rect x="1046" y="244" width="3" height="2" fill="#0000ff"/>
<rect x="1051" y="235" width="1" height="17" fill="#ff0000"/>
<rect x="1050" y="244" width="3" height="6" fill="#ff0000"/>
<rect x="1055" y="239" width="1" height="21" fill="#ff0000"/>
<rect x="1054" y="249" width="3" height="10" fill="#ff0000"/>
<rect x="1059" y="252" width="1" height="19" fill="#ff0000"/>
<rect x="1058" y="258" width="3" height="12" fill="#ff0000"/>
<rect x="1063" y="251" width="1" height="36" fill="#0000ff"/>
<rect x="1062" y="266" width="3" height="13" fill="#0000ff"/>
<rect x="1067" y="260" width="1" height="23" fill="#ff0000"/>
<rect x="1066" y="265" width="3" height="18" fill="#ff0000"/>
<rect x="1071" y="278" width="1" height="15" fill="#ff0000"/>
<rect x="1070" y="282" width="3" height="4" fill="#ff0000"/>
<rect x="1075" y="277" width="1" height="49" fill="#ff0000"/>
<rect x="1074" y="285" width="3" height="21" fill="#ff0000"/>
<rect x="1079" y="297" width="1" height="16" fill="#ff0000"/>
<rect x="1078" y="304" width="3" height="2" fill="#ff0000"/>
<rect x="1083" y="302" width="1" height="19" fill="#ff0000"/>
<rect x="1082" y="305" width="3" height="11" fill="#ff0000"/>
<rect x="1087" y="305" width="1" height="18" fill="#0000ff"/>
<rect x="1086" y="309" width="3" height="7" fill="#0000ff"/>
<rect x="1091" y="304" width="1" height="13" fill="#ff0000"/>
<rect x="1090" y="309" width="3" height="2" fill="#ff0000"/>
<rect x="1095" y="307" width="1" height="16" fill="#ff0000"/>
<rect x="1094" y="310" width="3" height="10" fill="#ff0000"/>
<rect x="1099" y="313" width="1" height="17" fill="#0000ff"/>
<rect x="1098" y="316" width="3" height="4" fill="#0000ff"/>
<rect x="1103" y="316" width="1" height="31" fill="#ff0000"/>
<rect x="1102" y="316" width="3" height="27" fill="#ff0000"/>
<rect x="1107" y="319" width="1" height="25" fill="#0000ff"/>
<rect x="1106" y="322" width="3" height="21" fill="#0000ff"/>
<rect x="1111" y="308" width="1" height="22" fill="#0000ff"/>
<rect x="1110" y="314" width="3" height="9" fill="#0000ff"/>
<rect x="1115" y="296" width="1" height="24" fill="#ff0000"/>
<rect x="1114" y="314" width="3" height="6" fill="#ff0000"/>
<rect x="1119" y="314" width="1" height="17" fill="#ff0000"/>
<rect x="1118" y="319" width="3" height="4" fill="#ff0000"/>
<rect x="1123" y="316" width="1" height="26" fill="#ff0000"/>
<rect x="1122" y="322" width="3" height="13" fill="#ff0000"/>
<rect x="1127" y="327" width="1" height="27" fill="#ff0000"/>
<rect x="1126" y="334" width="3" height="10" fill="#ff0000"/>
<rect x="1131" y="334" width="1" height="33" fill="#0000ff"/>
<rect x="1130" y="339" width="3" height="4" fill="#0000ff"/>
<rect x="1135" y="332" width="1" height="20" fill="#ff0000"/>
<rect x="1134" y="339" width="3" height="3" fill="#ff0000"/>
<rect x="1139" y="306" width="1" height="47" fill="#0000ff"/>
<rect x="1138" y="316" width="3" height="26" fill="#0000ff"/>
<rect x="1143" y="308" width="1" height="14" fill="#ff0000"/>
<rect x="1142" y="316" width="3" height="2" fill="#ff0000"/>
<rect x="1147" y="307" width="1" height="14" fill="#ff0000"/>
<rect x="1146" y="317" width="3" height="2" fill="#ff0000"/>
<rect x="1151" y="313" width="1" height="12" fill="#0000ff"/>
<rect x="1150" y="316" width="3" height="3" fill="#0000ff"/>
<rect x="1155" y="312" width="1" height="12" fill="#ff0000"/>
<rect x="1154" y="316" width="3" height="5" fill="#ff0000"/>
<rect x="1159" y="323" width="1" height="27" fill="#0000ff"/>
<rect x="1158" y="334" width="3" height="16" fill="#0000ff"/>
<rect x="1163" y="317" width="1" height="22" fill="#0000ff"/>
<rect x="1162" y="323" width="3" height="12" fill="#0000ff"/>
<rect x="1167" y="306" width="1" height="21" fill="#0000ff"/>
<rect x="1166" y="310" width="3" height="14" fill="#0000ff"/>
<rect x="1171" y="297" width="1" height="39" fill="#ff0000"/>
<rect x="1170" y="309" width="3" height="8" fill="#ff0000"/>
<rect x="1175" y="288" width="1" height="41" fill="#0000ff"/>
<rect x="1174" y="304" width="3" height="14" fill="#0000ff"/>
<rect x="1179" y="296" width="1" height="9" fill="#0000ff"/>
<rect x="1178" y="297" width="3" height="8" fill="#0000ff"/>
<rect x="67" y="222" width="1161" height="3" fill="#ff8c00"/>
<rect x="66" y="223" width="1163" height="1" fill="#ff8c00"/>
<line x1="775.3" y1="482.3" x2="1232" y2="336.6" stroke="#ff8c00" stroke-width="3.2" stroke-linecap="round"/>
<rect x="4" y="518" width="3" height="1" fill="#c0c0c0"/>
<rect x="10" y="518" width="3" height="1" fill="#c0c0c0"/>
<rect x="16" y="518" width="3" height="1" fill="#c0c0c0"/>
<rect x="22" y="518" width="3" height="1" fill="#c0c0c0"/>
<rect x="28" y="518" width="3" height="1" fill="#c0c0c0"/>
<rect x="34" y="518" width="3" height="1" fill="#c0c0c0"/>
<rect x="40" y="518" width="3" height="1" fill="#c0c0c0"/>
<rect x="46" y="518" width="3" height="1" fill="#c0c0c0"/>
<rect x="52" y="518" width="3" height="1" fill="#c0c0c0"/>
<rect x="58" y="518" width="3" height="1" fill="#c0c0c0"/>
<rect x="64" y="518" width="3" height="1" fill="#c0c0c0"/>
<rect x="70" y="518" width="3" height="1" fill="#c0c0c0"/>
<rect x="76" y="518" width="3" height="1" fill="#c0c0c0"/>
<rect x="82" y="518" width="3" height="1" fill="#c0c0c0"/>
<rect x="88" y="518" width="3" height="1" fill="#c0c0c0"/>
<rect x="94" y="518" width="3" height="1" fill="#c0c0c0"/>
<rect x="100" y="518" width="3" height="1" fill="#c0c0c0"/>
<rect x="106" y="518" width="3" height="1" fill="#c0c0c0"/>
<rect x="112" y="518" width="3" height="1" fill="#c0c0c0"/>
<rect x="118" y="518" width="3" height="1" fill="#c0c0c0"/>
<rect x="124" y="518" width="3" height="1" fill="#c0c0c0"/>
<rect x="130" y="518" width="3" height="1" fill="#c0c0c0"/>
<rect x="136" y="518" width="3" height="1" fill="#c0c0c0"/>
<rect x="142" y="518" width="3" height="1" fill="#c0c0c0"/>
<rect x="148" y="518" width="3" height="1" fill="#c0c0c0"/>
<rect x="154" y="518" width="3" height="1" fill="#c0c0c0"/>
<rect x="160" y="518" width="3" height="1" fill="#c0c0c0"/>
<rect x="166" y="518" width="3" height="1" fill="#c0c0c0"/>
<rect x="172" y="518" width="3" height="1" fill="#c0c0c0"/>
<rect x="178" y="518" width="3" height="1" fill="#c0c0c0"/>
<rect x="184" y="518" width="3" height="1" fill="#c0c0c0"/>
<rect x="190" y="518" width="3" height="1" fill="#c0c0c0"/>
<rect x="196" y="518" width="3" height="1" fill="#c0c0c0"/>
<rect x="202" y="518" width="3" height="1" fill="#c0c0c0"/>
<rect x="208" y="518" width="3" height="1" fill="#c0c0c0"/>
<rect x="214" y="518" width="3" height="1" fill="#c0c0c0"/>
<rect x="220" y="518" width="3" height="1" fill="#c0c0c0"/>
<rect x="226" y="518" width="3" height="1" fill="#c0c0c0"/>
<rect x="232" y="518" width="3" height="1" fill="#c0c0c0"/>
<rect x="238" y="518" width="3" height="1" fill="#c0c0c0"/>
<rect x="244" y="518" width="3" height="1" fill="#c0c0c0"/>
<rect x="250" y="518" width="3" height="1" fill="#c0c0c0"/>
<rect x="256" y="518" width="3" height="1" fill="#c0c0c0"/>
<rect x="262" y="518" width="3" height="1" fill="#c0c0c0"/>
<rect x="268" y="518" width="3" height="1" fill="#c0c0c0"/>
<rect x="274" y="518" width="3" height="1" fill="#c0c0c0"/>
<rect x="280" y="518" width="3" height="1" fill="#c0c0c0"/>
<rect x="286" y="518" width="3" height="1" fill="#c0c0c0"/>
<rect x="292" y="518" width="3" height="1" fill="#c0c0c0"/>
<rect x="298" y="518" width="3" height="1" fill="#c0c0c0"/>
<rect x="304" y="518" width="3" height="1" fill="#c0c0c0"/>
<rect x="310" y="518" width="3" height="1" fill="#c0c0c0"/>
<rect x="316" y="518" width="3" height="1" fill="#c0c0c0"/>
<rect x="322" y="518" width="3" height="1" fill="#c0c0c0"/>
<rect x="328" y="518" width="3" height="1" fill="#c0c0c0"/>
<rect x="334" y="518" width="3" height="1" fill="#c0c0c0"/>
<rect x="340" y="518" width="3" height="1" fill="#c0c0c0"/>
<rect x="346" y="518" width="3" height="1" fill="#c0c0c0"/>
<rect x="352" y="518" width="3" height="1" fill="#c0c0c0"/>
<rect x="358" y="518" width="3" height="1" fill="#c0c0c0"/>
<rect x="364" y="518" width="3" height="1" fill="#c0c0c0"/>
<rect x="370" y="518" width="3" height="1" fill="#c0c0c0"/>
<rect x="376" y="518" width="3" height="1" fill="#c0c0c0"/>
<rect x="382" y="518" width="3" height="1" fill="#c0c0c0"/>
<rect x="388" y="518" width="3" height="1" fill="#c0c0c0"/>
<rect x="394" y="518" width="3" height="1" fill="#c0c0c0"/>
<rect x="400" y="518" width="3" height="1" fill="#c0c0c0"/>
<rect x="406" y="518" width="3" height="1" fill="#c0c0c0"/>
<rect x="412" y="518" width="3" height="1" fill="#c0c0c0"/>
<rect x="418" y="518" width="3" height="1" fill="#c0c0c0"/>
<rect x="424" y="518" width="3" height="1" fill="#c0c0c0"/>
<rect x="430" y="518" width="3" height="1" fill="#c0c0c0"/>
<rect x="436" y="518" width="3" height="1" fill="#c0c0c0"/>
<rect x="442" y="518" width="3" height="1" fill="#c0c0c0"/>
<rect x="448" y="518" width="3" height="1" fill="#c0c0c0"/>
<rect x="454" y="518" width="3" height="1" fill="#c0c0c0"/>
<rect x="460" y="518" width="3" height="1" fill="#c0c0c0"/>
<rect x="466" y="518" width="3" height="1" fill="#c0c0c0"/>
<rect x="472" y="518" width="3" height="1" fill="#c0c0c0"/>
<rect x="478" y="518" width="3" height="1" fill="#c0c0c0"/>
<rect x="484" y="518" width="3" height="1" fill="#c0c0c0"/>
<rect x="490" y="518" width="3" height="1" fill="#c0c0c0"/>
<rect x="496" y="518" width="3" height="1" fill="#c0c0c0"/>
<rect x="502" y="518" width="3" height="1" fill="#c0c0c0"/>
<rect x="508" y="518" width="3" height="1" fill="#c0c0c0"/>
<rect x="514" y="518" width="3" height="1" fill="#c0c0c0"/>
<rect x="520" y="518" width="3" height="1" fill="#c0c0c0"/>
<rect x="526" y="518" width="3" height="1" fill="#c0c0c0"/>
<rect x="532" y="518" width="3" height="1" fill="#c0c0c0"/>
<rect x="538" y="518" width="3" height="1" fill="#c0c0c0"/>
<rect x="544" y="518" width="3" height="1" fill="#c0c0c0"/>
<rect x="550" y="518" width="3" height="1" fill="#c0c0c0"/>
<rect x="556" y="518" width="3" height="1" fill="#c0c0c0"/>
<rect x="562" y="518" width="3" height="1" fill="#c0c0c0"/>
<rect x="568" y="518" width="3" height="1" fill="#c0c0c0"/>
<rect x="574" y="518" width="3" height="1" fill="#c0c0c0"/>
<rect x="580" y="518" width="3" height="1" fill="#c0c0c0"/>
<rect x="586" y="518" width="3" height="1" fill="#c0c0c0"/>
<rect x="592" y="518" width="3" height="1" fill="#c0c0c0"/>
<rect x="598" y="518" width="3" height="1" fill="#c0c0c0"/>
<rect x="604" y="518" width="3" height="1" fill="#c0c0c0"/>
<rect x="610" y="518" width="3" height="1" fill="#c0c0c0"/>
<rect x="616" y="518" width="3" height="1" fill="#c0c0c0"/>
<rect x="622" y="518" width="3" height="1" fill="#c0c0c0"/>
<rect x="628" y="518" width="3" height="1" fill="#c0c0c0"/>
<rect x="634" y="518" width="3" height="1" fill="#c0c0c0"/>
<rect x="640" y="518" width="3" height="1" fill="#c0c0c0"/>
<rect x="646" y="518" width="3" height="1" fill="#c0c0c0"/>
<rect x="652" y="518" width="3" height="1" fill="#c0c0c0"/>
<rect x="658" y="518" width="3" height="1" fill="#c0c0c0"/>
<rect x="664" y="518" width="3" height="1" fill="#c0c0c0"/>
<rect x="670" y="518" width="3" height="1" fill="#c0c0c0"/>
<rect x="676" y="518" width="3" height="1" fill="#c0c0c0"/>
<rect x="682" y="518" width="3" height="1" fill="#c0c0c0"/>
<rect x="688" y="518" width="3" height="1" fill="#c0c0c0"/>
<rect x="694" y="518" width="3" height="1" fill="#c0c0c0"/>
<rect x="700" y="518" width="3" height="1" fill="#c0c0c0"/>
<rect x="706" y="518" width="3" height="1" fill="#c0c0c0"/>
<rect x="712" y="518" width="3" height="1" fill="#c0c0c0"/>
<rect x="718" y="518" width="3" height="1" fill="#c0c0c0"/>
<rect x="724" y="518" width="3" height="1" fill="#c0c0c0"/>
<rect x="730" y="518" width="3" height="1" fill="#c0c0c0"/>
<rect x="736" y="518" width="3" height="1" fill="#c0c0c0"/>
<rect x="742" y="518" width="3" height="1" fill="#c0c0c0"/>
<rect x="748" y="518" width="3" height="1" fill="#c0c0c0"/>
<rect x="754" y="518" width="3" height="1" fill="#c0c0c0"/>
<rect x="760" y="518" width="3" height="1" fill="#c0c0c0"/>
<rect x="766" y="518" width="3" height="1" fill="#c0c0c0"/>
<rect x="772" y="518" width="3" height="1" fill="#c0c0c0"/>
<rect x="778" y="518" width="3" height="1" fill="#c0c0c0"/>
<rect x="784" y="518" width="3" height="1" fill="#c0c0c0"/>
<rect x="790" y="518" width="3" height="1" fill="#c0c0c0"/>
<rect x="796" y="518" width="3" height="1" fill="#c0c0c0"/>
<rect x="802" y="518" width="3" height="1" fill="#c0c0c0"/>
<rect x="808" y="518" width="3" height="1" fill="#c0c0c0"/>
<rect x="814" y="518" width="3" height="1" fill="#c0c0c0"/>
<rect x="820" y="518" width="3" height="1" fill="#c0c0c0"/>
<rect x="826" y="518" width="3" height="1" fill="#c0c0c0"/>
<rect x="832" y="518" width="3" height="1" fill="#c0c0c0"/>
<rect x="838" y="518" width="3" height="1" fill="#c0c0c0"/>
<rect x="844" y="518" width="3" height="1" fill="#c0c0c0"/>
<rect x="850" y="518" width="3" height="1" fill="#c0c0c0"/>
<rect x="856" y="518" width="3" height="1" fill="#c0c0c0"/>
<rect x="862" y="518" width="3" height="1" fill="#c0c0c0"/>
<rect x="868" y="518" width="3" height="1" fill="#c0c0c0"/>
<rect x="874" y="518" width="3" height="1" fill="#c0c0c0"/>
<rect x="880" y="518" width="3" height="1" fill="#c0c0c0"/>
<rect x="886" y="518" width="3" height="1" fill="#c0c0c0"/>
<rect x="892" y="518" width="3" height="1" fill="#c0c0c0"/>
<rect x="898" y="518" width="3" height="1" fill="#c0c0c0"/>
<rect x="904" y="518" width="3" height="1" fill="#c0c0c0"/>
<rect x="910" y="518" width="3" height="1" fill="#c0c0c0"/>
<rect x="916" y="518" width="3" height="1" fill="#c0c0c0"/>
<rect x="922" y="518" width="3" height="1" fill="#c0c0c0"/>
<rect x="928" y="518" width="3" height="1" fill="#c0c0c0"/>
<rect x="934" y="518" width="3" height="1" fill="#c0c0c0"/>
<rect x="940" y="518" width="3" height="1" fill="#c0c0c0"/>
<rect x="946" y="518" width="3" height="1" fill="#c0c0c0"/>
<rect x="952" y="518" width="3" height="1" fill="#c0c0c0"/>
<rect x="958" y="518" width="3" height="1" fill="#c0c0c0"/>
<rect x="964" y="518" width="3" height="1" fill="#c0c0c0"/>
<rect x="970" y="518" width="3" height="1" fill="#c0c0c0"/>
<rect x="976" y="518" width="3" height="1" fill="#c0c0c0"/>
<rect x="982" y="518" width="3" height="1" fill="#c0c0c0"/>
<rect x="988" y="518" width="3" height="1" fill="#c0c0c0"/>
<rect x="994" y="518" width="3" height="1" fill="#c0c0c0"/>
<rect x="1000" y="518" width="3" height="1" fill="#c0c0c0"/>
<rect x="1006" y="518" width="3" height="1" fill="#c0c0c0"/>
<rect x="1012" y="518" width="3" height="1" fill="#c0c0c0"/>
<rect x="1018" y="518" width="3" height="1" fill="#c0c0c0"/>
<rect x="1024" y="518" width="3" height="1" fill="#c0c0c0"/>
<rect x="1030" y="518" width="3" height="1" fill="#c0c0c0"/>
<rect x="1036" y="518" width="3" height="1" fill="#c0c0c0"/>
<rect x="1042" y="518" width="3" height="1" fill="#c0c0c0"/>
<rect x="1048" y="518" width="3" height="1" fill="#c0c0c0"/>
<rect x="1054" y="518" width="3" height="1" fill="#c0c0c0"/>
<rect x="1060" y="518" width="3" height="1" fill="#c0c0c0"/>
<rect x="1066" y="518" width="3" height="1" fill="#c0c0c0"/>
<rect x="1072" y="518" width="3" height="1" fill="#c0c0c0"/>
<rect x="1078" y="518" width="3" height="1" fill="#c0c0c0"/>
<rect x="1084" y="518" width="3" height="1" fill="#c0c0c0"/>
<rect x="1090" y="518" width="3" height="1" fill="#c0c0c0"/>
<rect x="1096" y="518" width="3" height="1" fill="#c0c0c0"/>
<rect x="1102" y="518" width="3" height="1" fill="#c0c0c0"/>
<rect x="1108" y="518" width="3" height="1" fill="#c0c0c0"/>
<rect x="1114" y="518" width="3" height="1" fill="#c0c0c0"/>
<rect x="1120" y="518" width="3" height="1" fill="#c0c0c0"/>
<rect x="1126" y="518" width="3" height="1" fill="#c0c0c0"/>
<rect x="1132" y="518" width="3" height="1" fill="#c0c0c0"/>
<rect x="1138" y="518" width="3" height="1" fill="#c0c0c0"/>
<rect x="1144" y="518" width="3" height="1" fill="#c0c0c0"/>
<rect x="1150" y="518" width="3" height="1" fill="#c0c0c0"/>
<rect x="1156" y="518" width="3" height="1" fill="#c0c0c0"/>
<rect x="1162" y="518" width="3" height="1" fill="#c0c0c0"/>
<rect x="1168" y="518" width="3" height="1" fill="#c0c0c0"/>
<rect x="1174" y="518" width="3" height="1" fill="#c0c0c0"/>
<rect x="1180" y="518" width="3" height="1" fill="#c0c0c0"/>
<rect x="1186" y="518" width="3" height="1" fill="#c0c0c0"/>
<rect x="1192" y="518" width="3" height="1" fill="#c0c0c0"/>
<rect x="1198" y="518" width="3" height="1" fill="#c0c0c0"/>
<rect x="1204" y="518" width="3" height="1" fill="#c0c0c0"/>
<rect x="1210" y="518" width="3" height="1" fill="#c0c0c0"/>
<rect x="1216" y="518" width="3" height="1" fill="#c0c0c0"/>
<rect x="1222" y="518" width="3" height="1" fill="#c0c0c0"/>
<rect x="1228" y="518" width="3" height="1" fill="#c0c0c0"/>
<rect x="1234" y="518" width="3" height="1" fill="#c0c0c0"/>
<rect x="1240" y="518" width="3" height="1" fill="#c0c0c0"/>
<rect x="1246" y="518" width="3" height="1" fill="#c0c0c0"/>
<rect x="1252" y="518" width="3" height="1" fill="#c0c0c0"/>
<rect x="1258" y="518" width="3" height="1" fill="#c0c0c0"/>
<rect x="1264" y="518" width="3" height="1" fill="#c0c0c0"/>
<rect x="1270" y="518" width="3" height="1" fill="#c0c0c0"/>
<rect x="1276" y="518" width="3" height="1" fill="#c0c0c0"/>
<rect x="1282" y="518" width="3" height="1" fill="#c0c0c0"/>
<rect x="1288" y="518" width="3" height="1" fill="#c0c0c0"/>
<rect x="1294" y="518" width="3" height="1" fill="#c0c0c0"/>
<rect x="1300" y="518" width="3" height="1" fill="#c0c0c0"/>
<rect x="1306" y="518" width="3" height="1" fill="#c0c0c0"/>
<rect x="1312" y="518" width="3" height="1" fill="#c0c0c0"/>
<rect x="4" y="543" width="3" height="1" fill="#c0c0c0"/>
<rect x="10" y="543" width="3" height="1" fill="#c0c0c0"/>
<rect x="16" y="543" width="3" height="1" fill="#c0c0c0"/>
<rect x="22" y="543" width="3" height="1" fill="#c0c0c0"/>
<rect x="28" y="543" width="3" height="1" fill="#c0c0c0"/>
<rect x="34" y="543" width="3" height="1" fill="#c0c0c0"/>
<rect x="40" y="543" width="3" height="1" fill="#c0c0c0"/>
<rect x="46" y="543" width="3" height="1" fill="#c0c0c0"/>
<rect x="52" y="543" width="3" height="1" fill="#c0c0c0"/>
<rect x="58" y="543" width="3" height="1" fill="#c0c0c0"/>
<rect x="64" y="543" width="3" height="1" fill="#c0c0c0"/>
<rect x="70" y="543" width="3" height="1" fill="#c0c0c0"/>
<rect x="76" y="543" width="3" height="1" fill="#c0c0c0"/>
<rect x="82" y="543" width="3" height="1" fill="#c0c0c0"/>
<rect x="88" y="543" width="3" height="1" fill="#c0c0c0"/>
<rect x="94" y="543" width="3" height="1" fill="#c0c0c0"/>
<rect x="100" y="543" width="3" height="1" fill="#c0c0c0"/>
<rect x="106" y="543" width="3" height="1" fill="#c0c0c0"/>
<rect x="112" y="543" width="3" height="1" fill="#c0c0c0"/>
<rect x="118" y="543" width="3" height="1" fill="#c0c0c0"/>
<rect x="124" y="543" width="3" height="1" fill="#c0c0c0"/>
<rect x="130" y="543" width="3" height="1" fill="#c0c0c0"/>
<rect x="136" y="543" width="3" height="1" fill="#c0c0c0"/>
<rect x="142" y="543" width="3" height="1" fill="#c0c0c0"/>
<rect x="148" y="543" width="3" height="1" fill="#c0c0c0"/>
<rect x="154" y="543" width="3" height="1" fill="#c0c0c0"/>
<rect x="160" y="543" width="3" height="1" fill="#c0c0c0"/>
<rect x="166" y="543" width="3" height="1" fill="#c0c0c0"/>
<rect x="172" y="543" width="3" height="1" fill="#c0c0c0"/>
<rect x="178" y="543" width="3" height="1" fill="#c0c0c0"/>
<rect x="184" y="543" width="3" height="1" fill="#c0c0c0"/>
<rect x="190" y="543" width="3" height="1" fill="#c0c0c0"/>
<rect x="196" y="543" width="3" height="1" fill="#c0c0c0"/>
<rect x="202" y="543" width="3" height="1" fill="#c0c0c0"/>
<rect x="208" y="543" width="3" height="1" fill="#c0c0c0"/>
<rect x="214" y="543" width="3" height="1" fill="#c0c0c0"/>
<rect x="220" y="543" width="3" height="1" fill="#c0c0c0"/>
<rect x="226" y="543" width="3" height="1" fill="#c0c0c0"/>
<rect x="232" y="543" width="3" height="1" fill="#c0c0c0"/>
<rect x="238" y="543" width="3" height="1" fill="#c0c0c0"/>
<rect x="244" y="543" width="3" height="1" fill="#c0c0c0"/>
<rect x="250" y="543" width="3" height="1" fill="#c0c0c0"/>
<rect x="256" y="543" width="3" height="1" fill="#c0c0c0"/>
<rect x="262" y="543" width="3" height="1" fill="#c0c0c0"/>
<rect x="268" y="543" width="3" height="1" fill="#c0c0c0"/>
<rect x="274" y="543" width="3" height="1" fill="#c0c0c0"/>
<rect x="280" y="543" width="3" height="1" fill="#c0c0c0"/>
<rect x="286" y="543" width="3" height="1" fill="#c0c0c0"/>
<rect x="292" y="543" width="3" height="1" fill="#c0c0c0"/>
<rect x="298" y="543" width="3" height="1" fill="#c0c0c0"/>
<rect x="304" y="543" width="3" height="1" fill="#c0c0c0"/>
<rect x="310" y="543" width="3" height="1" fill="#c0c0c0"/>
<rect x="316" y="543" width="3" height="1" fill="#c0c0c0"/>
<rect x="322" y="543" width="3" height="1" fill="#c0c0c0"/>
<rect x="328" y="543" width="3" height="1" fill="#c0c0c0"/>
<rect x="334" y="543" width="3" height="1" fill="#c0c0c0"/>
<rect x="340" y="543" width="3" height="1" fill="#c0c0c0"/>
<rect x="346" y="543" width="3" height="1" fill="#c0c0c0"/>
<rect x="352" y="543" width="3" height="1" fill="#c0c0c0"/>
<rect x="358" y="543" width="3" height="1" fill="#c0c0c0"/>
<rect x="364" y="543" width="3" height="1" fill="#c0c0c0"/>
<rect x="370" y="543" width="3" height="1" fill="#c0c0c0"/>
<rect x="376" y="543" width="3" height="1" fill="#c0c0c0"/>
<rect x="382" y="543" width="3" height="1" fill="#c0c0c0"/>
<rect x="388" y="543" width="3" height="1" fill="#c0c0c0"/>
<rect x="394" y="543" width="3" height="1" fill="#c0c0c0"/>
<rect x="400" y="543" width="3" height="1" fill="#c0c0c0"/>
<rect x="406" y="543" width="3" height="1" fill="#c0c0c0"/>
<rect x="412" y="543" width="3" height="1" fill="#c0c0c0"/>
<rect x="418" y="543" width="3" height="1" fill="#c0c0c0"/>
<rect x="424" y="543" width="3" height="1" fill="#c0c0c0"/>
<rect x="430" y="543" width="3" height="1" fill="#c0c0c0"/>
<rect x="436" y="543" width="3" height="1" fill="#c0c0c0"/>
<rect x="442" y="543" width="3" height="1" fill="#c0c0c0"/>
<rect x="448" y="543" width="3" height="1" fill="#c0c0c0"/>
<rect x="454" y="543" width="3" height="1" fill="#c0c0c0"/>
<rect x="460" y="543" width="3" height="1" fill="#c0c0c0"/>
<rect x="466" y="543" width="3" height="1" fill="#c0c0c0"/>
<rect x="472" y="543" width="3" height="1" fill="#c0c0c0"/>
<rect x="478" y="543" width="3" height="1" fill="#c0c0c0"/>
<rect x="484" y="543" width="3" height="1" fill="#c0c0c0"/>
<rect x="490" y="543" width="3" height="1" fill="#c0c0c0"/>
<rect x="496" y="543" width="3" height="1" fill="#c0c0c0"/>
<rect x="502" y="543" width="3" height="1" fill="#c0c0c0"/>
<rect x="508" y="543" width="3" height="1" fill="#c0c0c0"/>
<rect x="514" y="543" width="3" height="1" fill="#c0c0c0"/>
<rect x="520" y="543" width="3" height="1" fill="#c0c0c0"/>
<rect x="526" y="543" width="3" height="1" fill="#c0c0c0"/>
<rect x="532" y="543" width="3" height="1" fill="#c0c0c0"/>
<rect x="538" y="543" width="3" height="1" fill="#c0c0c0"/>
<rect x="544" y="543" width="3" height="1" fill="#c0c0c0"/>
<rect x="550" y="543" width="3" height="1" fill="#c0c0c0"/>
<rect x="556" y="543" width="3" height="1" fill="#c0c0c0"/>
<rect x="562" y="543" width="3" height="1" fill="#c0c0c0"/>
<rect x="568" y="543" width="3" height="1" fill="#c0c0c0"/>
<rect x="574" y="543" width="3" height="1" fill="#c0c0c0"/>
<rect x="580" y="543" width="3" height="1" fill="#c0c0c0"/>
<rect x="586" y="543" width="3" height="1" fill="#c0c0c0"/>
<rect x="592" y="543" width="3" height="1" fill="#c0c0c0"/>
<rect x="598" y="543" width="3" height="1" fill="#c0c0c0"/>
<rect x="604" y="543" width="3" height="1" fill="#c0c0c0"/>
<rect x="610" y="543" width="3" height="1" fill="#c0c0c0"/>
<rect x="616" y="543" width="3" height="1" fill="#c0c0c0"/>
<rect x="622" y="543" width="3" height="1" fill="#c0c0c0"/>
<rect x="628" y="543" width="3" height="1" fill="#c0c0c0"/>
<rect x="634" y="543" width="3" height="1" fill="#c0c0c0"/>
<rect x="640" y="543" width="3" height="1" fill="#c0c0c0"/>
<rect x="646" y="543" width="3" height="1" fill="#c0c0c0"/>
<rect x="652" y="543" width="3" height="1" fill="#c0c0c0"/>
<rect x="658" y="543" width="3" height="1" fill="#c0c0c0"/>
<rect x="664" y="543" width="3" height="1" fill="#c0c0c0"/>
<rect x="670" y="543" width="3" height="1" fill="#c0c0c0"/>
<rect x="676" y="543" width="3" height="1" fill="#c0c0c0"/>
<rect x="682" y="543" width="3" height="1" fill="#c0c0c0"/>
<rect x="688" y="543" width="3" height="1" fill="#c0c0c0"/>
<rect x="694" y="543" width="3" height="1" fill="#c0c0c0"/>
<rect x="700" y="543" width="3" height="1" fill="#c0c0c0"/>
<rect x="706" y="543" width="3" height="1" fill="#c0c0c0"/>
<rect x="712" y="543" width="3" height="1" fill="#c0c0c0"/>
<rect x="718" y="543" width="3" height="1" fill="#c0c0c0"/>
<rect x="724" y="543" width="3" height="1" fill="#c0c0c0"/>
<rect x="730" y="543" width="3" height="1" fill="#c0c0c0"/>
<rect x="736" y="543" width="3" height="1" fill="#c0c0c0"/>
<rect x="742" y="543" width="3" height="1" fill="#c0c0c0"/>
<rect x="748" y="543" width="3" height="1" fill="#c0c0c0"/>
<rect x="754" y="543" width="3" height="1" fill="#c0c0c0"/>
<rect x="760" y="543" width="3" height="1" fill="#c0c0c0"/>
<rect x="766" y="543" width="3" height="1" fill="#c0c0c0"/>
<rect x="772" y="543" width="3" height="1" fill="#c0c0c0"/>
<rect x="778" y="543" width="3" height="1" fill="#c0c0c0"/>
<rect x="784" y="543" width="3" height="1" fill="#c0c0c0"/>
<rect x="790" y="543" width="3" height="1" fill="#c0c0c0"/>
<rect x="796" y="543" width="3" height="1" fill="#c0c0c0"/>
<rect x="802" y="543" width="3" height="1" fill="#c0c0c0"/>
<rect x="808" y="543" width="3" height="1" fill="#c0c0c0"/>
<rect x="814" y="543" width="3" height="1" fill="#c0c0c0"/>
<rect x="820" y="543" width="3" height="1" fill="#c0c0c0"/>
<rect x="826" y="543" width="3" height="1" fill="#c0c0c0"/>
<rect x="832" y="543" width="3" height="1" fill="#c0c0c0"/>
<rect x="838" y="543" width="3" height="1" fill="#c0c0c0"/>
<rect x="844" y="543" width="3" height="1" fill="#c0c0c0"/>
<rect x="850" y="543" width="3" height="1" fill="#c0c0c0"/>
<rect x="856" y="543" width="3" height="1" fill="#c0c0c0"/>
<rect x="862" y="543" width="3" height="1" fill="#c0c0c0"/>
<rect x="868" y="543" width="3" height="1" fill="#c0c0c0"/>
<rect x="874" y="543" width="3" height="1" fill="#c0c0c0"/>
<rect x="880" y="543" width="3" height="1" fill="#c0c0c0"/>
<rect x="886" y="543" width="3" height="1" fill="#c0c0c0"/>
<rect x="892" y="543" width="3" height="1" fill="#c0c0c0"/>
<rect x="898" y="543" width="3" height="1" fill="#c0c0c0"/>
<rect x="904" y="543" width="3" height="1" fill="#c0c0c0"/>
<rect x="910" y="543" width="3" height="1" fill="#c0c0c0"/>
<rect x="916" y="543" width="3" height="1" fill="#c0c0c0"/>
<rect x="922" y="543" width="3" height="1" fill="#c0c0c0"/>
<rect x="928" y="543" width="3" height="1" fill="#c0c0c0"/>
<rect x="934" y="543" width="3" height="1" fill="#c0c0c0"/>
<rect x="940" y="543" width="3" height="1" fill="#c0c0c0"/>
<rect x="946" y="543" width="3" height="1" fill="#c0c0c0"/>
<rect x="952" y="543" width="3" height="1" fill="#c0c0c0"/>
<rect x="958" y="543" width="3" height="1" fill="#c0c0c0"/>
<rect x="964" y="543" width="3" height="1" fill="#c0c0c0"/>
<rect x="970" y="543" width="3" height="1" fill="#c0c0c0"/>
<rect x="976" y="543" width="3" height="1" fill="#c0c0c0"/>
<rect x="982" y="543" width="3" height="1" fill="#c0c0c0"/>
<rect x="988" y="543" width="3" height="1" fill="#c0c0c0"/>
<rect x="994" y="543" width="3" height="1" fill="#c0c0c0"/>
<rect x="1000" y="543" width="3" height="1" fill="#c0c0c0"/>
<rect x="1006" y="543" width="3" height="1" fill="#c0c0c0"/>
<rect x="1012" y="543" width="3" height="1" fill="#c0c0c0"/>
<rect x="1018" y="543" width="3" height="1" fill="#c0c0c0"/>
<rect x="1024" y="543" width="3" height="1" fill="#c0c0c0"/>
<rect x="1030" y="543" width="3" height="1" fill="#c0c0c0"/>
<rect x="1036" y="543" width="3" height="1" fill="#c0c0c0"/>
<rect x="1042" y="543" width="3" height="1" fill="#c0c0c0"/>
<rect x="1048" y="543" width="3" height="1" fill="#c0c0c0"/>
<rect x="1054" y="543" width="3" height="1" fill="#c0c0c0"/>
<rect x="1060" y="543" width="3" height="1" fill="#c0c0c0"/>
<rect x="1066" y="543" width="3" height="1" fill="#c0c0c0"/>
<rect x="1072" y="543" width="3" height="1" fill="#c0c0c0"/>
<rect x="1078" y="543" width="3" height="1" fill="#c0c0c0"/>
<rect x="1084" y="543" width="3" height="1" fill="#c0c0c0"/>
<rect x="1090" y="543" width="3" height="1" fill="#c0c0c0"/>
<rect x="1096" y="543" width="3" height="1" fill="#c0c0c0"/>
<rect x="1102" y="543" width="3" height="1" fill="#c0c0c0"/>
<rect x="1108" y="543" width="3" height="1" fill="#c0c0c0"/>
<rect x="1114" y="543" width="3" height="1" fill="#c0c0c0"/>
<rect x="1120" y="543" width="3" height="1" fill="#c0c0c0"/>
<rect x="1126" y="543" width="3" height="1" fill="#c0c0c0"/>
<rect x="1132" y="543" width="3" height="1" fill="#c0c0c0"/>
<rect x="1138" y="543" width="3" height="1" fill="#c0c0c0"/>
<rect x="1144" y="543" width="3" height="1" fill="#c0c0c0"/>
<rect x="1150" y="543" width="3" height="1" fill="#c0c0c0"/>
<rect x="1156" y="543" width="3" height="1" fill="#c0c0c0"/>
<rect x="1162" y="543" width="3" height="1" fill="#c0c0c0"/>
<rect x="1168" y="543" width="3" height="1" fill="#c0c0c0"/>
<rect x="1174" y="543" width="3" height="1" fill="#c0c0c0"/>
<rect x="1180" y="543" width="3" height="1" fill="#c0c0c0"/>
<rect x="1186" y="543" width="3" height="1" fill="#c0c0c0"/>
<rect x="1192" y="543" width="3" height="1" fill="#c0c0c0"/>
<rect x="1198" y="543" width="3" height="1" fill="#c0c0c0"/>
<rect x="1204" y="543" width="3" height="1" fill="#c0c0c0"/>
<rect x="1210" y="543" width="3" height="1" fill="#c0c0c0"/>
<rect x="1216" y="543" width="3" height="1" fill="#c0c0c0"/>
<rect x="1222" y="543" width="3" height="1" fill="#c0c0c0"/>
<rect x="1228" y="543" width="3" height="1" fill="#c0c0c0"/>
<rect x="1234" y="543" width="3" height="1" fill="#c0c0c0"/>
<rect x="1240" y="543" width="3" height="1" fill="#c0c0c0"/>
<rect x="1246" y="543" width="3" height="1" fill="#c0c0c0"/>
<rect x="1252" y="543" width="3" height="1" fill="#c0c0c0"/>
<rect x="1258" y="543" width="3" height="1" fill="#c0c0c0"/>
<rect x="1264" y="543" width="3" height="1" fill="#c0c0c0"/>
<rect x="1270" y="543" width="3" height="1" fill="#c0c0c0"/>
<rect x="1276" y="543" width="3" height="1" fill="#c0c0c0"/>
<rect x="1282" y="543" width="3" height="1" fill="#c0c0c0"/>
<rect x="1288" y="543" width="3" height="1" fill="#c0c0c0"/>
<rect x="1294" y="543" width="3" height="1" fill="#c0c0c0"/>
<rect x="1300" y="543" width="3" height="1" fill="#c0c0c0"/>
<rect x="1306" y="543" width="3" height="1" fill="#c0c0c0"/>
<rect x="1312" y="543" width="3" height="1" fill="#c0c0c0"/>
<rect x="2" y="2" width="1315" height="1" fill="#000"/>
<rect x="2" y="2" width="1" height="562" fill="#000"/>
<rect x="1316" y="2" width="1" height="562" fill="#000"/>
<rect x="2" y="495" width="1315" height="1" fill="#000"/>
<rect x="2" y="497" width="1315" height="1" fill="#000"/>
<rect x="2" y="563" width="1315" height="1" fill="#000"/>
<rect x="3" y="496" width="1313" height="1" fill="#fff"/>
<rect x="1317" y="26" width="2" height="1" fill="#000"/>
<rect x="1317" y="59" width="2" height="1" fill="#000"/>
<rect x="1317" y="92" width="2" height="1" fill="#000"/>
<rect x="1317" y="125" width="2" height="1" fill="#000"/>
<rect x="1317" y="158" width="2" height="1" fill="#000"/>
<rect x="1317" y="192" width="2" height="1" fill="#000"/>
<rect x="1317" y="225" width="2" height="1" fill="#000"/>
<rect x="1317" y="259" width="2" height="1" fill="#000"/>
<rect x="1317" y="292" width="2" height="1" fill="#000"/>
<rect x="1317" y="326" width="2" height="1" fill="#000"/>
<rect x="1317" y="359" width="2" height="1" fill="#000"/>
<rect x="1317" y="393" width="2" height="1" fill="#000"/>
<rect x="1317" y="426" width="2" height="1" fill="#000"/>
<rect x="1317" y="458" width="2" height="1" fill="#000"/>
<rect x="1317" y="492" width="2" height="1" fill="#000"/>
<rect x="1317" y="498" width="1" height="1" fill="#000"/>
<rect x="1317" y="563" width="1" height="1" fill="#000"/>
<rect x="3" y="564" width="1" height="3" fill="#000"/>
<rect x="67" y="564" width="1" height="3" fill="#000"/>
<rect x="131" y="564" width="1" height="3" fill="#000"/>
<rect x="195" y="564" width="1" height="3" fill="#000"/>
<rect x="259" y="564" width="1" height="3" fill="#000"/>
<rect x="323" y="564" width="1" height="3" fill="#000"/>
<rect x="387" y="564" width="1" height="3" fill="#000"/>
<rect x="451" y="564" width="1" height="3" fill="#000"/>
<rect x="515" y="564" width="1" height="3" fill="#000"/>
<rect x="579" y="564" width="1" height="3" fill="#000"/>
<rect x="643" y="564" width="1" height="3" fill="#000"/>
<rect x="707" y="564" width="1" height="3" fill="#000"/>
<rect x="771" y="564" width="1" height="3" fill="#000"/>
<rect x="835" y="564" width="1" height="3" fill="#000"/>
<rect x="899" y="564" width="1" height="3" fill="#000"/>
<rect x="963" y="564" width="1" height="3" fill="#000"/>
<rect x="1027" y="564" width="1" height="3" fill="#000"/>
<rect x="1091" y="564" width="1" height="3" fill="#000"/>
<rect x="1155" y="564" width="1" height="3" fill="#000"/>
<rect x="1318" y="292" width="41" height="11" fill="#000"/>
<rect x="1317" y="292" width="1" height="1" fill="#000"/>
<rect x="6" y="9" width="7" height="1" fill="#000"/>
<rect x="7" y="10" width="5" height="1" fill="#000"/>
<rect x="8" y="11" width="3" height="1" fill="#000"/>
<rect x="9" y="12" width="1" height="1" fill="#000"/>
</g>
<polyline points="3.0,543.1 8.1,543.1 10.3,544.2 15.5,544.2 18.9,540.9 20.6,543.1 23.6,554.9 30.9,554.9 33.1,553.9 39.0,553.9 40.5,554.9 43.4,554.9 47.1,546.8 51.5,542.4 56.0,542.1 58.9,544.9 63.0,538.0 72.2,538.0 75.1,532.8 79.5,535.0 84.7,535.0 88.4,532.8 98.7,532.8 103.5,537.2 107.5,534.0 110.5,535.0 114.9,535.0 121.5,532.8 125.2,534.0 128.1,534.0 131.8,531.8 134.8,531.8 137.0,532.8 142.9,532.8 147.3,534.0 152.4,540.9 154.6,542.1 159.8,542.1 167.2,552.0 175.3,543.9 178.2,542.8 182.6,543.9 187.0,546.1 192.9,542.8 195.9,543.1 198.8,544.6 204.7,544.6 208.4,545.8 215.0,545.8 218.7,543.9 224.6,545.8 234.9,545.8 242.3,543.9 246.7,536.9 250.4,536.9 254.8,539.0 260.7,543.9 263.6,544.6 267.3,542.8 273.2,542.8 282.8,540.6 287.2,536.9 293.1,536.5 299.0,534.0 303.4,538.7 307.8,540.9 311.5,540.9 316.7,536.1 321.1,535.0 325.5,534.6 331.4,531.3 335.1,527.7 344.6,527.7 348.3,526.9 351.3,531.8 355.7,529.1 359.4,528.4 366.7,524.7 374.1,522.2 380.0,525.9 383.7,526.9 391.8,526.9 394.7,530.9 402.8,530.9 407.2,535.8 411.7,535.8 415.3,539.9 419.5,533.1 422.7,532.8 427.9,535.8 436.7,535.8 440.4,534.3 443.3,534.3 447.0,539.7 451.4,539.9 455.8,544.6 460.3,544.6 463.9,540.9 469.8,538.3 475.0,538.3 479.4,539.9 483.1,535.5 487.5,533.6 490.5,516.6 492.7,516.3 495.6,517.8 500.0,517.1 504.4,517.1 507.4,521.0 511.8,518.8 516.2,521.8 522.9,521.8 526.5,521.0 533.2,525.5 537.6,527.7 544.9,527.7 547.9,529.6 550.8,529.9 554.5,532.5 563.4,532.8 567.0,536.5 571.5,526.9 576.6,526.9 578.8,528.0 583.3,528.1 586.9,529.1 591.4,532.8 595.8,532.8 600.2,530.2 608.3,529.9 611.2,528.8 616.4,528.8 619.3,527.7 622.3,528.8 631.1,528.8 633.3,527.7 636.3,527.7 639.5,525.9 642.9,531.8 647.3,530.9 650.3,532.1 656.2,536.8 666.5,536.8 670.9,539.0 675.3,536.5 679.0,538.0 683.4,536.8 687.1,538.0 690.8,538.0 695.2,541.9 704.8,542.1 707.7,543.1 715.1,543.1 718.7,535.0 723.9,532.1 728.3,532.1 731.3,534.0 736.4,534.0 740.8,539.0 743.8,540.6 748.2,540.6 752.6,535.0 756.3,532.1 761.5,531.8 765.1,530.9 768.1,531.1 771.0,532.8 775.0,541.9 779.9,538.3 782.8,538.0 787.2,541.9 790.9,535.8 793.1,535.8 798.3,539.0 803.4,536.9 807.1,536.9 809.3,538.0 812.3,538.0 816.0,532.8 819.6,531.1 823.3,530.6 827.7,528.4 832.9,524.4 836.6,523.0 840.3,522.8 843.9,519.1 849.1,519.1 850.6,519.9 863.8,519.9 868.2,525.5 875.3,530.2 880.0,526.2 883.0,525.9 888.1,522.2 891.8,522.2 895.2,524.0 898.7,512.9 900.2,513.4 902.9,517.8 906.5,517.8 910.2,517.1 914.6,519.6 922.0,519.6 924.9,517.8 927.9,518.1 930.8,519.6 936.0,519.9 940.4,523.7 947.0,524.0 952.2,528.8 956.6,528.8 960.3,526.9 967.7,526.9 971.4,525.0 975.0,525.9 979.5,525.9 983.1,524.0 986.8,514.4 989.5,514.4 992.0,517.4 995.7,522.8 1002.3,522.8 1006.7,525.9 1011.1,526.2 1014.8,529.9 1020.0,530.2 1023.6,531.8 1028.8,531.8 1034.7,528.8 1038.4,529.9 1042.8,529.9 1045.7,528.8 1050.9,530.2 1057.5,533.8 1064.1,534.0 1067.8,536.5 1070.8,536.8 1075.2,539.4 1080.3,540.6 1084.8,540.6 1089.2,538.7 1091.4,539.0 1094.3,540.6 1100.2,540.9 1103.5,543.9 1108.3,537.7 1111.3,536.8 1114.9,536.8 1119.4,538.3 1124.5,540.6 1131.1,540.6 1133.4,539.7 1136.3,539.7 1140.0,533.1 1151.0,533.1 1154.7,534.3 1159.1,536.8 1162.1,535.5 1167.2,531.1 1170.9,532.1 1174.6,530.6 1179.0,527.7" fill="none" stroke="#0000ff" stroke-width="2" stroke-linejoin="round" shape-rendering="crispEdges"/>
<text x="18.5" y="14" textLength="54.6" lengthAdjust="spacingAndGlyphs">AUDNZD,H1</text>
<text x="79.3" y="14" textLength="33.1" lengthAdjust="spacingAndGlyphs">1.06099</text>
<text x="115.2" y="14" textLength="33.1" lengthAdjust="spacingAndGlyphs">1.06129</text>
<text x="151.1" y="14" textLength="33.1" lengthAdjust="spacingAndGlyphs">1.06099</text>
<text x="187.0" y="14" textLength="33.1" lengthAdjust="spacingAndGlyphs">1.06126</text>
<text x="7.0" y="510" textLength="69.0" lengthAdjust="spacingAndGlyphs">RSI(14) 55.5379</text>
<text x="1322.4" y="30" textLength="33.1" lengthAdjust="spacingAndGlyphs">1.07220</text>
<text x="1322.4" y="63" textLength="33.1" lengthAdjust="spacingAndGlyphs">1.07085</text>
<text x="1322.4" y="96" textLength="33.1" lengthAdjust="spacingAndGlyphs">1.06955</text>
<text x="1322.4" y="129" textLength="33.1" lengthAdjust="spacingAndGlyphs">1.06820</text>
<text x="1322.4" y="162" textLength="33.1" lengthAdjust="spacingAndGlyphs">1.06685</text>
<text x="1322.4" y="196" textLength="33.1" lengthAdjust="spacingAndGlyphs">1.06550</text>
<text x="1322.4" y="229" textLength="33.1" lengthAdjust="spacingAndGlyphs">1.06415</text>
<text x="1322.4" y="263" textLength="33.1" lengthAdjust="spacingAndGlyphs">1.06280</text>
<text x="1322.4" y="296" textLength="33.1" lengthAdjust="spacingAndGlyphs">1.06145</text>
<text x="1322.4" y="330" textLength="33.1" lengthAdjust="spacingAndGlyphs">1.06010</text>
<text x="1322.4" y="363" textLength="33.1" lengthAdjust="spacingAndGlyphs">1.05875</text>
<text x="1322.4" y="397" textLength="33.1" lengthAdjust="spacingAndGlyphs">1.05740</text>
<text x="1322.4" y="430" textLength="33.1" lengthAdjust="spacingAndGlyphs">1.05605</text>
<text x="1322.4" y="462" textLength="33.1" lengthAdjust="spacingAndGlyphs">1.05475</text>
<text x="1322.4" y="496" textLength="33.1" lengthAdjust="spacingAndGlyphs">1.05340</text>
<text x="1322.4" y="301" textLength="33.1" lengthAdjust="spacingAndGlyphs" style="fill:#fff;stroke:#fff;stroke-width:0.35px">1.06126</text>
<text x="1302.3999999999999" y="24" textLength="12.9" lengthAdjust="spacingAndGlyphs">0.0</text>
<text x="1297.3" y="132" textLength="18.0" lengthAdjust="spacingAndGlyphs">23.6</text>
<text x="1297.3" y="198" textLength="18.0" lengthAdjust="spacingAndGlyphs">38.2</text>
<text x="1297.3" y="252" textLength="18.0" lengthAdjust="spacingAndGlyphs">50.0</text>
<text x="1297.3" y="306" textLength="18.0" lengthAdjust="spacingAndGlyphs">61.8</text>
<text x="1292.3" y="480" textLength="23.0" lengthAdjust="spacingAndGlyphs">100.0</text>
<text x="1320.0" y="508" textLength="15.0" lengthAdjust="spacingAndGlyphs">100</text>
<text x="1320.0" y="522" textLength="10.0" lengthAdjust="spacingAndGlyphs">70</text>
<text x="1320.0" y="547" textLength="10.0" lengthAdjust="spacingAndGlyphs">30</text>
<text x="1320.0" y="560" textLength="5.0" lengthAdjust="spacingAndGlyphs">0</text>
<text x="2.3" y="576" textLength="50.8" lengthAdjust="spacingAndGlyphs">23 Apr 2019</text>
<text x="66.3" y="576" textLength="53.8" lengthAdjust="spacingAndGlyphs">24 Apr 15:00</text>
<text x="130.3" y="576" textLength="53.8" lengthAdjust="spacingAndGlyphs">25 Apr 07:00</text>
<text x="194.3" y="576" textLength="53.8" lengthAdjust="spacingAndGlyphs">25 Apr 23:00</text>
<text x="258.3" y="576" textLength="53.8" lengthAdjust="spacingAndGlyphs">26 Apr 15:00</text>
<text x="322.3" y="576" textLength="53.8" lengthAdjust="spacingAndGlyphs">29 Apr 07:00</text>
<text x="386.3" y="576" textLength="53.8" lengthAdjust="spacingAndGlyphs">29 Apr 23:00</text>
<text x="450.3" y="576" textLength="53.8" lengthAdjust="spacingAndGlyphs">30 Apr 15:00</text>
<text x="514.3" y="576" textLength="52.5" lengthAdjust="spacingAndGlyphs">1 May 07:00</text>
<text x="578.3" y="576" textLength="52.5" lengthAdjust="spacingAndGlyphs">1 May 23:00</text>
<text x="642.3" y="576" textLength="52.5" lengthAdjust="spacingAndGlyphs">2 May 15:00</text>
<text x="706.3" y="576" textLength="52.5" lengthAdjust="spacingAndGlyphs">3 May 07:00</text>
<text x="770.3" y="576" textLength="52.5" lengthAdjust="spacingAndGlyphs">3 May 23:00</text>
<text x="834.3" y="576" textLength="52.5" lengthAdjust="spacingAndGlyphs">6 May 15:00</text>
<text x="898.3" y="576" textLength="52.5" lengthAdjust="spacingAndGlyphs">7 May 07:00</text>
<text x="962.3" y="576" textLength="52.5" lengthAdjust="spacingAndGlyphs">7 May 23:00</text>
<text x="1026.3" y="576" textLength="52.5" lengthAdjust="spacingAndGlyphs">8 May 15:00</text>
<text x="1090.3" y="576" textLength="52.5" lengthAdjust="spacingAndGlyphs">9 May 07:00</text>
<text x="1154.3" y="576" textLength="52.5" lengthAdjust="spacingAndGlyphs">9 May 23:00</text>
</svg></body></html>
